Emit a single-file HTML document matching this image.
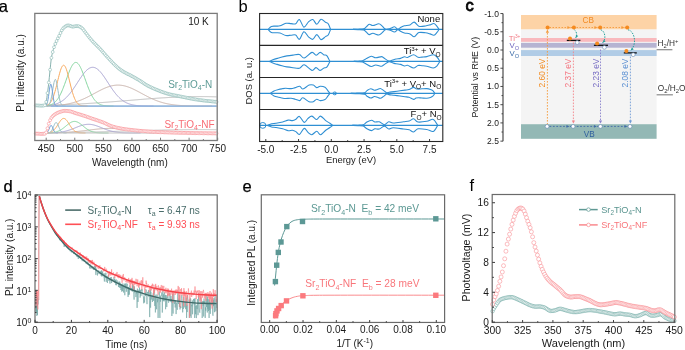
<!DOCTYPE html>
<html><head><meta charset="utf-8"><style>
html,body{margin:0;padding:0;background:#fff;}
body{width:685px;height:350px;overflow:hidden;}
svg{display:block;font-family:"Liberation Sans",sans-serif;will-change:transform;}
</style></head><body>
<svg width="685" height="350" viewBox="0 0 685 350">
<rect width="685" height="350" fill="#fff"/>
<text x="-1.2" y="11.7" font-size="16.5" fill="#000" text-anchor="start" stroke="#000" stroke-width="0.25">a</text>
<text x="238.6" y="11.7" font-size="16.5" fill="#000" text-anchor="start" >b</text>
<text x="465.4" y="11.3" font-size="16.5" fill="#000" text-anchor="start" stroke="#000" stroke-width="0.8">c</text>
<text x="3.4" y="191.8" font-size="16.5" fill="#000" text-anchor="start" stroke="#000" stroke-width="0.25">d</text>
<text x="242.4" y="191.8" font-size="16.5" fill="#000" text-anchor="start" stroke="#000" stroke-width="0.25">e</text>
<text x="469.6" y="191.3" font-size="16.5" fill="#000" text-anchor="start" >f</text>
<line x1="47" y1="106.1" x2="216.6" y2="106.1" stroke="#8aa9c8" stroke-width="1" />
<path d="M46,105.26 L46.5,105.24 L47,105.23 L47.5,105.21 L48,105.2 L48.5,105.19 L49,105.17 L49.5,105.16 L50,105.14 L50.5,105.13 L51,105.11 L51.5,105.1 L52,105.08 L52.5,105.07 L53,105.05 L53.5,105.04 L54,105.02 L54.5,105 L55,104.99 L55.5,104.97 L56,104.96 L56.5,104.94 L57,104.92 L57.5,104.9 L58,104.89 L58.5,104.87 L59,104.85 L59.5,104.83 L60,104.81 L60.5,104.8 L61,104.78 L61.5,104.76 L62,104.74 L62.5,104.72 L63,104.7 L63.5,104.68 L64,104.66 L64.5,104.64 L65,104.62 L65.5,104.6 L66,104.58 L66.5,104.56 L67,104.54 L67.5,104.52 L68,104.49 L68.5,104.47 L69,104.45 L69.5,104.43 L70,104.41 L70.5,104.38 L71,104.36 L71.5,104.34 L72,104.31 L72.5,104.29 L73,104.27 L73.5,104.24 L74,104.22 L74.5,104.2 L75,104.17 L75.5,104.15 L76,104.12 L76.5,104.1 L77,104.07 L77.5,104.05 L78,104.02 L78.5,103.99 L79,103.97 L79.5,103.94 L80,103.91 L80.5,103.89 L81,103.86 L81.5,103.83 L82,103.81 L82.5,103.78 L83,103.75 L83.5,103.72 L84,103.69 L84.5,103.66 L85,103.64 L85.5,103.61 L86,103.58 L86.5,103.55 L87,103.52 L87.5,103.49 L88,103.46 L88.5,103.43 L89,103.4 L89.5,103.37 L90,103.34 L90.5,103.31 L91,103.27 L91.5,103.24 L92,103.21 L92.5,103.18 L93,103.15 L93.5,103.11 L94,103.08 L94.5,103.05 L95,103.02 L95.5,102.98 L96,102.95 L96.5,102.92 L97,102.88 L97.5,102.85 L98,102.81 L98.5,102.78 L99,102.75 L99.5,102.71 L100,102.68 L100.5,102.64 L101,102.61 L101.5,102.57 L102,102.53 L102.5,102.5 L103,102.46 L103.5,102.43 L104,102.39 L104.5,102.35 L105,102.32 L105.5,102.28 L106,102.24 L106.5,102.21 L107,102.17 L107.5,102.13 L108,102.09 L108.5,102.06 L109,102.02 L109.5,101.98 L110,101.94 L110.5,101.9 L111,101.87 L111.5,101.83 L112,101.79 L112.5,101.75 L113,101.71 L113.5,101.67 L114,101.63 L114.5,101.59 L115,101.55 L115.5,101.52 L116,101.48 L116.5,101.44 L117,101.4 L117.5,101.36 L118,101.32 L118.5,101.28 L119,101.24 L119.5,101.2 L120,101.16 L120.5,101.12 L121,101.07 L121.5,101.03 L122,100.99 L122.5,100.95 L123,100.91 L123.5,100.87 L124,100.83 L124.5,100.79 L125,100.75 L125.5,100.71 L126,100.67 L126.5,100.63 L127,100.58 L127.5,100.54 L128,100.5 L128.5,100.46 L129,100.42 L129.5,100.38 L130,100.34 L130.5,100.3 L131,100.26 L131.5,100.21 L132,100.17 L132.5,100.13 L133,100.09 L133.5,100.05 L134,100.01 L134.5,99.97 L135,99.93 L135.5,99.89 L136,99.85 L136.5,99.8 L137,99.76 L137.5,99.72 L138,99.68 L138.5,99.64 L139,99.6 L139.5,99.56 L140,99.52 L140.5,99.48 L141,99.44 L141.5,99.4 L142,99.36 L142.5,99.32 L143,99.28 L143.5,99.24 L144,99.2 L144.5,99.16 L145,99.12 L145.5,99.08 L146,99.04 L146.5,99.01 L147,98.97 L147.5,98.93 L148,98.89 L148.5,98.85 L149,98.81 L149.5,98.78 L150,98.74 L150.5,98.7 L151,98.66 L151.5,98.63 L152,98.59 L152.5,98.55 L153,98.52 L153.5,98.48 L154,98.44 L154.5,98.41 L155,98.37 L155.5,98.34 L156,98.3 L156.5,98.27 L157,98.23 L157.5,98.2 L158,98.16 L158.5,98.13 L159,98.1 L159.5,98.06 L160,98.03 L160.5,98 L161,97.97 L161.5,97.93 L162,97.9 L162.5,97.87 L163,97.84 L163.5,97.81 L164,97.78 L164.5,97.75 L165,97.72 L165.5,97.69 L166,97.66 L166.5,97.63 L167,97.6 L167.5,97.57 L168,97.54 L168.5,97.51 L169,97.49 L169.5,97.46 L170,97.43 L170.5,97.41 L171,97.38 L171.5,97.36 L172,97.33 L172.5,97.31 L173,97.28 L173.5,97.26 L174,97.23 L174.5,97.21 L175,97.19 L175.5,97.16 L176,97.14 L176.5,97.12 L177,97.1 L177.5,97.08 L178,97.06 L178.5,97.04 L179,97.02 L179.5,97 L180,96.98 L180.5,96.96 L181,96.94 L181.5,96.93 L182,96.91 L182.5,96.89 L183,96.88 L183.5,96.86 L184,96.84 L184.5,96.83 L185,96.82 L185.5,96.8 L186,96.79 L186.5,96.78 L187,96.76 L187.5,96.75 L188,96.74 L188.5,96.73 L189,96.72 L189.5,96.71 L190,96.7 L190.5,96.69 L191,96.68 L191.5,96.67 L192,96.66 L192.5,96.65 L193,96.65 L193.5,96.64 L194,96.63 L194.5,96.63 L195,96.62 L195.5,96.62 L196,96.62 L196.5,96.61 L197,96.61 L197.5,96.61 L198,96.6 L198.5,96.6 L199,96.6 L199.5,96.6 L200,96.6 L200.5,96.6 L201,96.6 L201.5,96.6 L202,96.6 L202.5,96.61 L203,96.61 L203.5,96.61 L204,96.62 L204.5,96.62 L205,96.62 L205.5,96.63 L206,96.63 L206.5,96.64 L207,96.65 L207.5,96.65 L208,96.66 L208.5,96.67 L209,96.68 L209.5,96.69 L210,96.7 L210.5,96.71 L211,96.72 L211.5,96.73 L212,96.74 L212.5,96.75 L213,96.76 L213.5,96.78 L214,96.79 L214.5,96.8 L215,96.82 L215.5,96.83 L216,96.84 L216.5,96.86" stroke="#bdbdbd" stroke-width="1" fill="none" />
<path d="M46,105.91 L46.5,105.89 L47,105.88 L47.5,105.87 L48,105.85 L48.5,105.84 L49,105.82 L49.5,105.8 L50,105.78 L50.5,105.76 L51,105.74 L51.5,105.72 L52,105.69 L52.5,105.67 L53,105.64 L53.5,105.61 L54,105.59 L54.5,105.55 L55,105.52 L55.5,105.49 L56,105.45 L56.5,105.42 L57,105.38 L57.5,105.34 L58,105.29 L58.5,105.25 L59,105.2 L59.5,105.15 L60,105.1 L60.5,105.05 L61,104.99 L61.5,104.93 L62,104.87 L62.5,104.81 L63,104.74 L63.5,104.67 L64,104.6 L64.5,104.53 L65,104.45 L65.5,104.37 L66,104.28 L66.5,104.2 L67,104.11 L67.5,104.01 L68,103.92 L68.5,103.82 L69,103.71 L69.5,103.6 L70,103.49 L70.5,103.38 L71,103.26 L71.5,103.14 L72,103.01 L72.5,102.88 L73,102.74 L73.5,102.6 L74,102.46 L74.5,102.31 L75,102.16 L75.5,102.01 L76,101.85 L76.5,101.68 L77,101.52 L77.5,101.34 L78,101.17 L78.5,100.99 L79,100.8 L79.5,100.61 L80,100.42 L80.5,100.22 L81,100.02 L81.5,99.81 L82,99.6 L82.5,99.39 L83,99.17 L83.5,98.95 L84,98.73 L84.5,98.5 L85,98.27 L85.5,98.03 L86,97.79 L86.5,97.55 L87,97.3 L87.5,97.05 L88,96.8 L88.5,96.55 L89,96.29 L89.5,96.03 L90,95.77 L90.5,95.51 L91,95.25 L91.5,94.98 L92,94.71 L92.5,94.44 L93,94.17 L93.5,93.9 L94,93.63 L94.5,93.36 L95,93.09 L95.5,92.82 L96,92.55 L96.5,92.28 L97,92.01 L97.5,91.75 L98,91.48 L98.5,91.22 L99,90.95 L99.5,90.7 L100,90.44 L100.5,90.19 L101,89.93 L101.5,89.69 L102,89.44 L102.5,89.21 L103,88.97 L103.5,88.74 L104,88.51 L104.5,88.29 L105,88.08 L105.5,87.87 L106,87.67 L106.5,87.47 L107,87.28 L107.5,87.09 L108,86.92 L108.5,86.75 L109,86.58 L109.5,86.43 L110,86.28 L110.5,86.14 L111,86.01 L111.5,85.89 L112,85.77 L112.5,85.67 L113,85.57 L113.5,85.48 L114,85.4 L114.5,85.33 L115,85.27 L115.5,85.22 L116,85.18 L116.5,85.14 L117,85.12 L117.5,85.1 L118,85.1 L118.5,85.1 L119,85.12 L119.5,85.14 L120,85.18 L120.5,85.22 L121,85.27 L121.5,85.33 L122,85.4 L122.5,85.48 L123,85.57 L123.5,85.67 L124,85.77 L124.5,85.89 L125,86.01 L125.5,86.14 L126,86.28 L126.5,86.43 L127,86.58 L127.5,86.75 L128,86.92 L128.5,87.09 L129,87.28 L129.5,87.47 L130,87.67 L130.5,87.87 L131,88.08 L131.5,88.29 L132,88.51 L132.5,88.74 L133,88.97 L133.5,89.21 L134,89.44 L134.5,89.69 L135,89.93 L135.5,90.19 L136,90.44 L136.5,90.7 L137,90.95 L137.5,91.22 L138,91.48 L138.5,91.75 L139,92.01 L139.5,92.28 L140,92.55 L140.5,92.82 L141,93.09 L141.5,93.36 L142,93.63 L142.5,93.9 L143,94.17 L143.5,94.44 L144,94.71 L144.5,94.98 L145,95.25 L145.5,95.51 L146,95.77 L146.5,96.03 L147,96.29 L147.5,96.55 L148,96.8 L148.5,97.05 L149,97.3 L149.5,97.55 L150,97.79 L150.5,98.03 L151,98.27 L151.5,98.5 L152,98.73 L152.5,98.95 L153,99.17 L153.5,99.39 L154,99.6 L154.5,99.81 L155,100.02 L155.5,100.22 L156,100.42 L156.5,100.61 L157,100.8 L157.5,100.99 L158,101.17 L158.5,101.34 L159,101.52 L159.5,101.68 L160,101.85 L160.5,102.01 L161,102.16 L161.5,102.31 L162,102.46 L162.5,102.6 L163,102.74 L163.5,102.88 L164,103.01 L164.5,103.14 L165,103.26 L165.5,103.38 L166,103.49 L166.5,103.6 L167,103.71 L167.5,103.82 L168,103.92 L168.5,104.01 L169,104.11 L169.5,104.2 L170,104.28 L170.5,104.37 L171,104.45 L171.5,104.53 L172,104.6 L172.5,104.67 L173,104.74 L173.5,104.81 L174,104.87 L174.5,104.93 L175,104.99 L175.5,105.05 L176,105.1 L176.5,105.15 L177,105.2 L177.5,105.25 L178,105.29 L178.5,105.34 L179,105.38 L179.5,105.42 L180,105.45 L180.5,105.49 L181,105.52 L181.5,105.55 L182,105.59 L182.5,105.61 L183,105.64 L183.5,105.67 L184,105.69 L184.5,105.72 L185,105.74 L185.5,105.76 L186,105.78 L186.5,105.8 L187,105.82 L187.5,105.84 L188,105.85 L188.5,105.87 L189,105.88 L189.5,105.89 L190,105.91 L190.5,105.92 L191,105.93 L191.5,105.94 L192,105.95 L192.5,105.96 L193,105.97 L193.5,105.98 L194,105.99 L194.5,106 L195,106 L195.5,106.01 L196,106.01 L196.5,106.02 L197,106.03 L197.5,106.03 L198,106.04 L198.5,106.04 L199,106.04 L199.5,106.05 L200,106.05 L200.5,106.06 L201,106.06 L201.5,106.06 L202,106.06 L202.5,106.07 L203,106.07 L203.5,106.07 L204,106.07 L204.5,106.08 L205,106.08 L205.5,106.08 L206,106.08 L206.5,106.08 L207,106.08 L207.5,106.09 L208,106.09 L208.5,106.09 L209,106.09 L209.5,106.09 L210,106.09 L210.5,106.09 L211,106.09 L211.5,106.09 L212,106.09" stroke="#c8b2aa" stroke-width="1" fill="none" />
<path d="M46,105.75 L46.5,105.72 L47,105.68 L47.5,105.63 L48,105.59 L48.5,105.53 L49,105.48 L49.5,105.42 L50,105.35 L50.5,105.28 L51,105.2 L51.5,105.11 L52,105.02 L52.5,104.93 L53,104.82 L53.5,104.7 L54,104.58 L54.5,104.45 L55,104.31 L55.5,104.16 L56,104 L56.5,103.82 L57,103.64 L57.5,103.44 L58,103.23 L58.5,103.01 L59,102.78 L59.5,102.53 L60,102.26 L60.5,101.99 L61,101.69 L61.5,101.38 L62,101.05 L62.5,100.71 L63,100.35 L63.5,99.97 L64,99.57 L64.5,99.16 L65,98.73 L65.5,98.28 L66,97.81 L66.5,97.32 L67,96.81 L67.5,96.28 L68,95.74 L68.5,95.18 L69,94.59 L69.5,94 L70,93.38 L70.5,92.75 L71,92.1 L71.5,91.43 L72,90.75 L72.5,90.06 L73,89.35 L73.5,88.63 L74,87.9 L74.5,87.15 L75,86.4 L75.5,85.65 L76,84.88 L76.5,84.11 L77,83.34 L77.5,82.57 L78,81.79 L78.5,81.02 L79,80.25 L79.5,79.49 L80,78.73 L80.5,77.98 L81,77.25 L81.5,76.52 L82,75.82 L82.5,75.12 L83,74.45 L83.5,73.79 L84,73.16 L84.5,72.55 L85,71.97 L85.5,71.42 L86,70.89 L86.5,70.4 L87,69.93 L87.5,69.51 L88,69.11 L88.5,68.75 L89,68.43 L89.5,68.15 L90,67.91 L90.5,67.7 L91,67.54 L91.5,67.42 L92,67.34 L92.5,67.3 L93,67.31 L93.5,67.35 L94,67.44 L94.5,67.57 L95,67.74 L95.5,67.95 L96,68.2 L96.5,68.49 L97,68.82 L97.5,69.19 L98,69.59 L98.5,70.02 L99,70.49 L99.5,70.99 L100,71.53 L100.5,72.09 L101,72.67 L101.5,73.29 L102,73.92 L102.5,74.58 L103,75.26 L103.5,75.96 L104,76.67 L104.5,77.39 L105,78.13 L105.5,78.88 L106,79.64 L106.5,80.41 L107,81.17 L107.5,81.95 L108,82.72 L108.5,83.5 L109,84.27 L109.5,85.03 L110,85.8 L110.5,86.55 L111,87.3 L111.5,88.04 L112,88.77 L112.5,89.49 L113,90.2 L113.5,90.89 L114,91.56 L114.5,92.23 L115,92.87 L115.5,93.5 L116,94.12 L116.5,94.71 L117,95.29 L117.5,95.85 L118,96.39 L118.5,96.91 L119,97.42 L119.5,97.9 L120,98.37 L120.5,98.81 L121,99.24 L121.5,99.65 L122,100.05 L122.5,100.42 L123,100.78 L123.5,101.12 L124,101.44 L124.5,101.75 L125,102.04 L125.5,102.32 L126,102.58 L126.5,102.83 L127,103.06 L127.5,103.28 L128,103.48 L128.5,103.68 L129,103.86 L129.5,104.03 L130,104.19 L130.5,104.34 L131,104.48 L131.5,104.61 L132,104.73 L132.5,104.84 L133,104.95 L133.5,105.04 L134,105.13 L134.5,105.22 L135,105.29 L135.5,105.36 L136,105.43 L136.5,105.49 L137,105.54 L137.5,105.6 L138,105.64 L138.5,105.69 L139,105.72 L139.5,105.76 L140,105.79 L140.5,105.82 L141,105.85 L141.5,105.88 L142,105.9 L142.5,105.92 L143,105.94 L143.5,105.95 L144,105.97 L144.5,105.98 L145,106 L145.5,106.01 L146,106.02 L146.5,106.03 L147,106.03 L147.5,106.04 L148,106.05 L148.5,106.05 L149,106.06 L149.5,106.06 L150,106.07 L150.5,106.07 L151,106.08 L151.5,106.08 L152,106.08 L152.5,106.08 L153,106.09 L153.5,106.09" stroke="#a9a4d2" stroke-width="1" fill="none" />
<path d="M46,105.78 L46.5,105.72 L47,105.66 L47.5,105.58 L48,105.5 L48.5,105.4 L49,105.28 L49.5,105.15 L50,105.01 L50.5,104.84 L51,104.65 L51.5,104.44 L52,104.21 L52.5,103.94 L53,103.65 L53.5,103.32 L54,102.96 L54.5,102.56 L55,102.12 L55.5,101.64 L56,101.12 L56.5,100.55 L57,99.93 L57.5,99.27 L58,98.55 L58.5,97.78 L59,96.95 L59.5,96.07 L60,95.14 L60.5,94.15 L61,93.11 L61.5,92.02 L62,90.89 L62.5,89.7 L63,88.47 L63.5,87.2 L64,85.89 L64.5,84.56 L65,83.2 L65.5,81.82 L66,80.43 L66.5,79.04 L67,77.65 L67.5,76.26 L68,74.9 L68.5,73.57 L69,72.28 L69.5,71.03 L70,69.83 L70.5,68.7 L71,67.64 L71.5,66.65 L72,65.76 L72.5,64.96 L73,64.26 L73.5,63.66 L74,63.18 L74.5,62.81 L75,62.55 L75.5,62.42 L76,62.41 L76.5,62.52 L77,62.75 L77.5,63.09 L78,63.56 L78.5,64.13 L79,64.81 L79.5,65.59 L80,66.47 L80.5,67.43 L81,68.48 L81.5,69.6 L82,70.78 L82.5,72.02 L83,73.31 L83.5,74.64 L84,75.99 L84.5,77.37 L85,78.76 L85.5,80.15 L86,81.54 L86.5,82.93 L87,84.29 L87.5,85.63 L88,86.94 L88.5,88.22 L89,89.46 L89.5,90.65 L90,91.8 L90.5,92.9 L91,93.95 L91.5,94.95 L92,95.89 L92.5,96.78 L93,97.61 L93.5,98.4 L94,99.13 L94.5,99.8 L95,100.43 L95.5,101.01 L96,101.54 L96.5,102.03 L97,102.48 L97.5,102.88 L98,103.25 L98.5,103.58 L99,103.88 L99.5,104.15 L100,104.4 L100.5,104.61 L101,104.8 L101.5,104.97 L102,105.13 L102.5,105.26 L103,105.37 L103.5,105.48 L104,105.57 L104.5,105.64 L105,105.71 L105.5,105.77 L106,105.82 L106.5,105.86 L107,105.9 L107.5,105.93 L108,105.96 L108.5,105.98 L109,106 L109.5,106.02 L110,106.03 L110.5,106.04 L111,106.05 L111.5,106.06 L112,106.07 L112.5,106.07 L113,106.08 L113.5,106.08" stroke="#86d6a0" stroke-width="1" fill="none" />
<path d="M46,105.55 L46.5,105.4 L47,105.21 L47.5,104.98 L48,104.71 L48.5,104.38 L49,103.98 L49.5,103.51 L50,102.97 L50.5,102.33 L51,101.59 L51.5,100.75 L52,99.79 L52.5,98.71 L53,97.51 L53.5,96.18 L54,94.73 L54.5,93.15 L55,91.46 L55.5,89.66 L56,87.76 L56.5,85.79 L57,83.77 L57.5,81.71 L58,79.64 L58.5,77.6 L59,75.61 L59.5,73.72 L60,71.94 L60.5,70.31 L61,68.87 L61.5,67.63 L62,66.63 L62.5,65.88 L63,65.4 L63.5,65.21 L64,65.29 L64.5,65.66 L65,66.3 L65.5,67.2 L66,68.34 L66.5,69.71 L67,71.27 L67.5,72.99 L68,74.84 L68.5,76.8 L69,78.82 L69.5,80.88 L70,82.94 L70.5,84.99 L71,86.98 L71.5,88.91 L72,90.75 L72.5,92.49 L73,94.11 L73.5,95.62 L74,96.99 L74.5,98.25 L75,99.37 L75.5,100.38 L76,101.27 L76.5,102.05 L77,102.72 L77.5,103.31 L78,103.8 L78.5,104.23 L79,104.58 L79.5,104.88 L80,105.12 L80.5,105.33 L81,105.49 L81.5,105.62 L82,105.73 L82.5,105.81 L83,105.88 L83.5,105.93 L84,105.97 L84.5,106.01 L85,106.03 L85.5,106.05 L86,106.06 L86.5,106.07 L87,106.08 L87.5,106.09" stroke="#f9aa5e" stroke-width="1" fill="none" />
<path d="M46,106.06 L46.5,106.01 L47,105.94 L47.5,105.8 L48,105.58 L48.5,105.23 L49,104.68 L49.5,103.88 L50,102.76 L50.5,101.24 L51,99.3 L51.5,96.92 L52,94.17 L52.5,91.15 L53,88.05 L53.5,85.09 L54,82.54 L54.5,80.63 L55,79.58 L55.5,79.48 L56,80.35 L56.5,82.1 L57,84.54 L57.5,87.43 L58,90.53 L58.5,93.58 L59,96.4 L59.5,98.86 L60,100.89 L60.5,102.49 L61,103.69 L61.5,104.55 L62,105.13 L62.5,105.52 L63,105.77 L63.5,105.92 L64,106 L64.5,106.05 L65,106.07 L65.5,106.09" stroke="#9cc0c8" stroke-width="1" fill="none" />
<path d="M46,105.47 L46.5,104.83 L47,103.73 L47.5,102 L48,99.54 L48.5,96.38 L49,92.76 L49.5,89.15 L50,86.17 L50.5,84.4 L51,84.24 L51.5,85.7 L52,88.48 L52.5,92.02 L53,95.68 L53.5,98.96 L54,101.57 L54.5,103.44 L55,104.65 L55.5,105.37 L56,105.76 L56.5,105.95 L57,106.04 L57.5,106.08 L58,106.09" stroke="#6f9fd8" stroke-width="1" fill="none" />
<line x1="51" y1="106.1" x2="216.6" y2="106.1" stroke="#8db4e0" stroke-width="1.2" />
<path d="M35.5,105.4 C37,105.4 42.77,105.75 44.5,105.4 C46.23,105.05 45.45,105 45.9,103.3 C46.35,101.6 46.75,98.37 47.2,95.2 C47.65,92.03 48.13,88.38 48.6,84.3 C49.07,80.22 49.55,75 50,70.7 C50.45,66.4 50.85,61.62 51.3,58.5 C51.75,55.38 52.25,53.88 52.7,52 C53.15,50.12 53.33,49.07 54,47.2 C54.67,45.33 55.78,42.8 56.7,40.8 C57.62,38.8 58.58,37.07 59.5,35.2 C60.42,33.33 61.3,31 62.2,29.6 C63.1,28.2 64,27.5 64.9,26.8 C65.8,26.1 66.7,25.55 67.6,25.4 C68.5,25.25 69.48,25.68 70.3,25.9 C71.12,26.12 71.63,26.65 72.5,26.7 C73.37,26.75 74.5,26.28 75.5,26.2 C76.5,26.12 77.58,26 78.5,26.2 C79.42,26.4 80.25,26.9 81,27.4 C81.75,27.9 82.07,28.1 83,29.2 C83.93,30.3 85.1,32.1 86.6,34 C88.1,35.9 89.67,38.03 92,40.6 C94.33,43.17 98.43,47.1 100.6,49.4 C102.77,51.7 102.72,51.9 105,54.4 C107.28,56.9 111.8,61.9 114.3,64.4 C116.8,66.9 118.22,68.03 120,69.4 C121.78,70.77 123.08,71.52 125,72.6 C126.92,73.68 129,74.53 131.5,75.9 C134,77.27 137.15,79.08 140,80.8 C142.85,82.52 144.3,84.13 148.6,86.2 C152.9,88.27 160.65,91.52 165.8,93.2 C170.95,94.88 174.13,95.2 179.5,96.3 C184.87,97.4 191.82,98.87 198,99.8 C204.18,100.73 213.5,101.55 216.6,101.9" stroke="#6a9e9a" stroke-width="0.8" fill="none" />
<g stroke="#80b3af" stroke-width="0.55" fill="#fff"><circle cx="35.8" cy="105.4" r="1.45"/><circle cx="37.1" cy="105.45" r="1.45"/><circle cx="38.4" cy="105.53" r="1.45"/><circle cx="39.7" cy="105.61" r="1.45"/><circle cx="41" cy="105.66" r="1.45"/><circle cx="42.3" cy="105.65" r="1.45"/><circle cx="43.6" cy="105.55" r="1.45"/><circle cx="44.9" cy="105.25" r="1.45"/><circle cx="46.2" cy="101.91" r="1.45"/><circle cx="47.5" cy="93.05" r="1.45"/><circle cx="48.8" cy="82.49" r="1.45"/><circle cx="50.1" cy="69.73" r="1.45"/><circle cx="51.4" cy="57.84" r="1.45"/><circle cx="52.7" cy="52" r="1.45"/><circle cx="54" cy="47.2" r="1.45"/><circle cx="55.3" cy="43.91" r="1.45"/><circle cx="56.6" cy="41.02" r="1.45"/><circle cx="57.9" cy="38.34" r="1.45"/><circle cx="59.2" cy="35.8" r="1.45"/><circle cx="60.5" cy="33.02" r="1.45"/><circle cx="61.8" cy="30.28" r="1.45"/><circle cx="63.1" cy="28.41" r="1.45"/><circle cx="64.4" cy="27.19" r="1.45"/><circle cx="65.7" cy="26.22" r="1.45"/><circle cx="67" cy="25.56" r="1.45"/><circle cx="68.3" cy="25.38" r="1.45"/><circle cx="69.6" cy="25.69" r="1.45"/><circle cx="70.9" cy="26.12" r="1.45"/><circle cx="72.2" cy="26.66" r="1.45"/><circle cx="73.5" cy="26.61" r="1.45"/><circle cx="74.8" cy="26.31" r="1.45"/><circle cx="76.1" cy="26.15" r="1.45"/><circle cx="77.4" cy="26.08" r="1.45"/><circle cx="78.7" cy="26.25" r="1.45"/><circle cx="80" cy="26.79" r="1.45"/><circle cx="81.3" cy="27.61" r="1.45"/><circle cx="82.6" cy="28.75" r="1.45"/><circle cx="83.9" cy="30.33" r="1.45"/><circle cx="85.2" cy="32.12" r="1.45"/><circle cx="86.5" cy="33.87" r="1.45"/><circle cx="87.8" cy="35.52" r="1.45"/><circle cx="89.1" cy="37.16" r="1.45"/><circle cx="90.4" cy="38.76" r="1.45"/><circle cx="91.7" cy="40.27" r="1.45"/><circle cx="93" cy="41.68" r="1.45"/><circle cx="94.3" cy="43.03" r="1.45"/><circle cx="95.6" cy="44.34" r="1.45"/><circle cx="96.9" cy="45.64" r="1.45"/><circle cx="98.2" cy="46.93" r="1.45"/><circle cx="99.5" cy="48.25" r="1.45"/><circle cx="100.8" cy="49.61" r="1.45"/><circle cx="102.1" cy="51.07" r="1.45"/><circle cx="103.4" cy="52.58" r="1.45"/><circle cx="104.7" cy="54.07" r="1.45"/><circle cx="106" cy="55.5" r="1.45"/><circle cx="107.3" cy="56.93" r="1.45"/><circle cx="108.6" cy="58.36" r="1.45"/><circle cx="109.9" cy="59.78" r="1.45"/><circle cx="111.2" cy="61.18" r="1.45"/><circle cx="112.5" cy="62.56" r="1.45"/><circle cx="113.8" cy="63.9" r="1.45"/><circle cx="115.1" cy="65.19" r="1.45"/><circle cx="116.4" cy="66.4" r="1.45"/><circle cx="117.7" cy="67.54" r="1.45"/><circle cx="119" cy="68.62" r="1.45"/><circle cx="120.3" cy="69.63" r="1.45"/><circle cx="121.6" cy="70.54" r="1.45"/><circle cx="122.9" cy="71.37" r="1.45"/><circle cx="124.2" cy="72.14" r="1.45"/><circle cx="125.5" cy="72.88" r="1.45"/><circle cx="126.8" cy="73.55" r="1.45"/><circle cx="128.1" cy="74.19" r="1.45"/><circle cx="129.4" cy="74.82" r="1.45"/><circle cx="130.7" cy="75.47" r="1.45"/><circle cx="132" cy="76.17" r="1.45"/><circle cx="133.3" cy="76.9" r="1.45"/><circle cx="134.6" cy="77.63" r="1.45"/><circle cx="135.9" cy="78.38" r="1.45"/><circle cx="137.2" cy="79.13" r="1.45"/><circle cx="138.5" cy="79.9" r="1.45"/><circle cx="139.8" cy="80.68" r="1.45"/><circle cx="141.1" cy="81.49" r="1.45"/><circle cx="142.4" cy="82.35" r="1.45"/><circle cx="143.7" cy="83.23" r="1.45"/><circle cx="145" cy="84.1" r="1.45"/><circle cx="146.3" cy="84.93" r="1.45"/><circle cx="147.6" cy="85.68" r="1.45"/><circle cx="148.9" cy="86.34" r="1.45"/><circle cx="150.2" cy="86.96" r="1.45"/><circle cx="151.5" cy="87.56" r="1.45"/><circle cx="152.8" cy="88.15" r="1.45"/><circle cx="154.1" cy="88.72" r="1.45"/><circle cx="155.4" cy="89.28" r="1.45"/><circle cx="156.7" cy="89.83" r="1.45"/><circle cx="158" cy="90.35" r="1.45"/><circle cx="159.3" cy="90.87" r="1.45"/><circle cx="160.6" cy="91.37" r="1.45"/><circle cx="161.9" cy="91.85" r="1.45"/><circle cx="163.2" cy="92.32" r="1.45"/><circle cx="164.5" cy="92.77" r="1.45"/><circle cx="165.8" cy="93.2" r="1.45"/><circle cx="167.1" cy="93.6" r="1.45"/><circle cx="168.4" cy="93.97" r="1.45"/><circle cx="169.7" cy="94.3" r="1.45"/><circle cx="171" cy="94.6" r="1.45"/><circle cx="172.3" cy="94.89" r="1.45"/><circle cx="173.6" cy="95.15" r="1.45"/><circle cx="174.9" cy="95.41" r="1.45"/><circle cx="176.2" cy="95.65" r="1.45"/><circle cx="177.5" cy="95.9" r="1.45"/><circle cx="178.8" cy="96.16" r="1.45"/><circle cx="180.1" cy="96.42" r="1.45"/><circle cx="181.4" cy="96.69" r="1.45"/><circle cx="182.7" cy="96.96" r="1.45"/><circle cx="184" cy="97.22" r="1.45"/><circle cx="185.3" cy="97.49" r="1.45"/><circle cx="186.6" cy="97.75" r="1.45"/><circle cx="187.9" cy="98.01" r="1.45"/><circle cx="189.2" cy="98.26" r="1.45"/><circle cx="190.5" cy="98.51" r="1.45"/><circle cx="191.8" cy="98.75" r="1.45"/><circle cx="193.1" cy="98.99" r="1.45"/><circle cx="194.4" cy="99.22" r="1.45"/><circle cx="195.7" cy="99.44" r="1.45"/><circle cx="197" cy="99.65" r="1.45"/><circle cx="198.3" cy="99.84" r="1.45"/><circle cx="199.6" cy="100.03" r="1.45"/><circle cx="200.9" cy="100.21" r="1.45"/><circle cx="202.2" cy="100.37" r="1.45"/><circle cx="203.5" cy="100.52" r="1.45"/><circle cx="204.8" cy="100.67" r="1.45"/><circle cx="206.1" cy="100.81" r="1.45"/><circle cx="207.4" cy="100.95" r="1.45"/><circle cx="208.7" cy="101.08" r="1.45"/><circle cx="210" cy="101.21" r="1.45"/><circle cx="211.3" cy="101.34" r="1.45"/><circle cx="212.6" cy="101.47" r="1.45"/><circle cx="213.9" cy="101.61" r="1.45"/><circle cx="215.2" cy="101.75" r="1.45"/><circle cx="216.5" cy="101.89" r="1.45"/></g>
<path d="M47,132.69 L47.5,132.68 L48,132.68 L48.5,132.67 L49,132.67 L49.5,132.66 L50,132.66 L50.5,132.65 L51,132.65 L51.5,132.64 L52,132.64 L52.5,132.63 L53,132.63 L53.5,132.62 L54,132.61 L54.5,132.61 L55,132.6 L55.5,132.6 L56,132.59 L56.5,132.58 L57,132.58 L57.5,132.57 L58,132.57 L58.5,132.56 L59,132.55 L59.5,132.55 L60,132.54 L60.5,132.53 L61,132.53 L61.5,132.52 L62,132.51 L62.5,132.51 L63,132.5 L63.5,132.49 L64,132.48 L64.5,132.48 L65,132.47 L65.5,132.46 L66,132.46 L66.5,132.45 L67,132.44 L67.5,132.43 L68,132.43 L68.5,132.42 L69,132.41 L69.5,132.4 L70,132.39 L70.5,132.39 L71,132.38 L71.5,132.37 L72,132.36 L72.5,132.35 L73,132.34 L73.5,132.34 L74,132.33 L74.5,132.32 L75,132.31 L75.5,132.3 L76,132.29 L76.5,132.28 L77,132.27 L77.5,132.26 L78,132.26 L78.5,132.25 L79,132.24 L79.5,132.23 L80,132.22 L80.5,132.21 L81,132.2 L81.5,132.19 L82,132.18 L82.5,132.17 L83,132.16 L83.5,132.15 L84,132.14 L84.5,132.13 L85,132.12 L85.5,132.11 L86,132.1 L86.5,132.09 L87,132.08 L87.5,132.07 L88,132.05 L88.5,132.04 L89,132.03 L89.5,132.02 L90,132.01 L90.5,132 L91,131.99 L91.5,131.98 L92,131.97 L92.5,131.95 L93,131.94 L93.5,131.93 L94,131.92 L94.5,131.91 L95,131.9 L95.5,131.88 L96,131.87 L96.5,131.86 L97,131.85 L97.5,131.84 L98,131.82 L98.5,131.81 L99,131.8 L99.5,131.79 L100,131.77 L100.5,131.76 L101,131.75 L101.5,131.74 L102,131.72 L102.5,131.71 L103,131.7 L103.5,131.69 L104,131.67 L104.5,131.66 L105,131.65 L105.5,131.63 L106,131.62 L106.5,131.61 L107,131.59 L107.5,131.58 L108,131.57 L108.5,131.55 L109,131.54 L109.5,131.53 L110,131.51 L110.5,131.5 L111,131.48 L111.5,131.47 L112,131.46 L112.5,131.44 L113,131.43 L113.5,131.42 L114,131.4 L114.5,131.39 L115,131.37 L115.5,131.36 L116,131.35 L116.5,131.33 L117,131.32 L117.5,131.3 L118,131.29 L118.5,131.27 L119,131.26 L119.5,131.24 L120,131.23 L120.5,131.22 L121,131.2 L121.5,131.19 L122,131.17 L122.5,131.16 L123,131.14 L123.5,131.13 L124,131.11 L124.5,131.1 L125,131.08 L125.5,131.07 L126,131.06 L126.5,131.04 L127,131.03 L127.5,131.01 L128,131 L128.5,130.98 L129,130.97 L129.5,130.95 L130,130.94 L130.5,130.92 L131,130.91 L131.5,130.89 L132,130.88 L132.5,130.86 L133,130.85 L133.5,130.83 L134,130.82 L134.5,130.81 L135,130.79 L135.5,130.78 L136,130.76 L136.5,130.75 L137,130.73 L137.5,130.72 L138,130.7 L138.5,130.69 L139,130.67 L139.5,130.66 L140,130.65 L140.5,130.63 L141,130.62 L141.5,130.6 L142,130.59 L142.5,130.57 L143,130.56 L143.5,130.55 L144,130.53 L144.5,130.52 L145,130.5 L145.5,130.49 L146,130.48 L146.5,130.46 L147,130.45 L147.5,130.43 L148,130.42 L148.5,130.41 L149,130.39 L149.5,130.38 L150,130.37 L150.5,130.35 L151,130.34 L151.5,130.33 L152,130.31 L152.5,130.3 L153,130.29 L153.5,130.27 L154,130.26 L154.5,130.25 L155,130.23 L155.5,130.22 L156,130.21 L156.5,130.2 L157,130.18 L157.5,130.17 L158,130.16 L158.5,130.15 L159,130.14 L159.5,130.12 L160,130.11 L160.5,130.1 L161,130.09 L161.5,130.08 L162,130.07 L162.5,130.05 L163,130.04 L163.5,130.03 L164,130.02 L164.5,130.01 L165,130 L165.5,129.99 L166,129.98 L166.5,129.97 L167,129.96 L167.5,129.95 L168,129.94 L168.5,129.93 L169,129.92 L169.5,129.91 L170,129.9 L170.5,129.89 L171,129.88 L171.5,129.87 L172,129.86 L172.5,129.85 L173,129.84 L173.5,129.84 L174,129.83 L174.5,129.82 L175,129.81 L175.5,129.8 L176,129.79 L176.5,129.79 L177,129.78 L177.5,129.77 L178,129.76 L178.5,129.76 L179,129.75 L179.5,129.74 L180,129.74 L180.5,129.73 L181,129.72 L181.5,129.72 L182,129.71 L182.5,129.7 L183,129.7 L183.5,129.69 L184,129.69 L184.5,129.68 L185,129.68 L185.5,129.67 L186,129.67 L186.5,129.66 L187,129.66 L187.5,129.65 L188,129.65 L188.5,129.65 L189,129.64 L189.5,129.64 L190,129.63 L190.5,129.63 L191,129.63 L191.5,129.62 L192,129.62 L192.5,129.62 L193,129.62 L193.5,129.61 L194,129.61 L194.5,129.61 L195,129.61 L195.5,129.61 L196,129.61 L196.5,129.6 L197,129.6 L197.5,129.6 L198,129.6 L198.5,129.6 L199,129.6 L199.5,129.6 L200,129.6 L200.5,129.6 L201,129.6 L201.5,129.6 L202,129.6 L202.5,129.6 L203,129.6 L203.5,129.6 L204,129.61 L204.5,129.61 L205,129.61 L205.5,129.61 L206,129.61 L206.5,129.61 L207,129.62 L207.5,129.62 L208,129.62 L208.5,129.62 L209,129.63 L209.5,129.63 L210,129.63 L210.5,129.64 L211,129.64 L211.5,129.65 L212,129.65 L212.5,129.65 L213,129.66 L213.5,129.66 L214,129.67 L214.5,129.67 L215,129.68 L215.5,129.68 L216,129.69 L216.5,129.69" stroke="#c3c3c3" stroke-width="1" fill="none" />
<path d="M47,132.92 L47.5,132.92 L48,132.91 L48.5,132.91 L49,132.9 L49.5,132.9 L50,132.89 L50.5,132.88 L51,132.87 L51.5,132.87 L52,132.86 L52.5,132.85 L53,132.84 L53.5,132.83 L54,132.82 L54.5,132.81 L55,132.8 L55.5,132.79 L56,132.77 L56.5,132.76 L57,132.75 L57.5,132.73 L58,132.72 L58.5,132.7 L59,132.69 L59.5,132.67 L60,132.65 L60.5,132.63 L61,132.61 L61.5,132.6 L62,132.57 L62.5,132.55 L63,132.53 L63.5,132.51 L64,132.48 L64.5,132.46 L65,132.43 L65.5,132.41 L66,132.38 L66.5,132.35 L67,132.32 L67.5,132.29 L68,132.26 L68.5,132.22 L69,132.19 L69.5,132.15 L70,132.12 L70.5,132.08 L71,132.04 L71.5,132.01 L72,131.97 L72.5,131.92 L73,131.88 L73.5,131.84 L74,131.79 L74.5,131.75 L75,131.7 L75.5,131.65 L76,131.61 L76.5,131.56 L77,131.51 L77.5,131.46 L78,131.4 L78.5,131.35 L79,131.3 L79.5,131.24 L80,131.18 L80.5,131.13 L81,131.07 L81.5,131.01 L82,130.95 L82.5,130.89 L83,130.83 L83.5,130.77 L84,130.71 L84.5,130.65 L85,130.59 L85.5,130.53 L86,130.46 L86.5,130.4 L87,130.34 L87.5,130.27 L88,130.21 L88.5,130.15 L89,130.08 L89.5,130.02 L90,129.96 L90.5,129.89 L91,129.83 L91.5,129.77 L92,129.71 L92.5,129.65 L93,129.59 L93.5,129.53 L94,129.47 L94.5,129.41 L95,129.35 L95.5,129.3 L96,129.24 L96.5,129.19 L97,129.14 L97.5,129.09 L98,129.04 L98.5,128.99 L99,128.94 L99.5,128.9 L100,128.85 L100.5,128.81 L101,128.77 L101.5,128.73 L102,128.69 L102.5,128.66 L103,128.63 L103.5,128.6 L104,128.57 L104.5,128.54 L105,128.52 L105.5,128.5 L106,128.48 L106.5,128.46 L107,128.44 L107.5,128.43 L108,128.42 L108.5,128.41 L109,128.4 L109.5,128.4 L110,128.4 L110.5,128.4 L111,128.4 L111.5,128.41 L112,128.42 L112.5,128.43 L113,128.44 L113.5,128.46 L114,128.48 L114.5,128.5 L115,128.52 L115.5,128.54 L116,128.57 L116.5,128.6 L117,128.63 L117.5,128.66 L118,128.69 L118.5,128.73 L119,128.77 L119.5,128.81 L120,128.85 L120.5,128.9 L121,128.94 L121.5,128.99 L122,129.04 L122.5,129.09 L123,129.14 L123.5,129.19 L124,129.24 L124.5,129.3 L125,129.35 L125.5,129.41 L126,129.47 L126.5,129.53 L127,129.59 L127.5,129.65 L128,129.71 L128.5,129.77 L129,129.83 L129.5,129.89 L130,129.96 L130.5,130.02 L131,130.08 L131.5,130.15 L132,130.21 L132.5,130.27 L133,130.34 L133.5,130.4 L134,130.46 L134.5,130.53 L135,130.59 L135.5,130.65 L136,130.71 L136.5,130.77 L137,130.83 L137.5,130.89 L138,130.95 L138.5,131.01 L139,131.07 L139.5,131.13 L140,131.18 L140.5,131.24 L141,131.3 L141.5,131.35 L142,131.4 L142.5,131.46 L143,131.51 L143.5,131.56 L144,131.61 L144.5,131.65 L145,131.7 L145.5,131.75 L146,131.79 L146.5,131.84 L147,131.88 L147.5,131.92 L148,131.97 L148.5,132.01 L149,132.04 L149.5,132.08 L150,132.12 L150.5,132.15 L151,132.19 L151.5,132.22 L152,132.26 L152.5,132.29 L153,132.32 L153.5,132.35 L154,132.38 L154.5,132.41 L155,132.43 L155.5,132.46 L156,132.48 L156.5,132.51 L157,132.53 L157.5,132.55 L158,132.57 L158.5,132.6 L159,132.61 L159.5,132.63 L160,132.65 L160.5,132.67 L161,132.69 L161.5,132.7 L162,132.72 L162.5,132.73 L163,132.75 L163.5,132.76 L164,132.77 L164.5,132.79 L165,132.8 L165.5,132.81 L166,132.82 L166.5,132.83 L167,132.84 L167.5,132.85 L168,132.86 L168.5,132.87 L169,132.87 L169.5,132.88 L170,132.89 L170.5,132.9 L171,132.9 L171.5,132.91 L172,132.91 L172.5,132.92 L173,132.92 L173.5,132.93 L174,132.93 L174.5,132.94 L175,132.94 L175.5,132.95 L176,132.95 L176.5,132.95 L177,132.96 L177.5,132.96 L178,132.96 L178.5,132.96 L179,132.97 L179.5,132.97 L180,132.97 L180.5,132.97 L181,132.97 L181.5,132.98 L182,132.98 L182.5,132.98 L183,132.98 L183.5,132.98 L184,132.98 L184.5,132.99 L185,132.99 L185.5,132.99 L186,132.99 L186.5,132.99 L187,132.99 L187.5,132.99 L188,132.99 L188.5,132.99 L189,132.99 L189.5,132.99 L190,132.99 L190.5,132.99 L191,132.99 L191.5,133 L192,133 L192.5,133 L193,133 L193.5,133 L194,133 L194.5,133 L195,133 L195.5,133 L196,133 L196.5,133 L197,133 L197.5,133 L198,133" stroke="#c8b2aa" stroke-width="1" fill="none" />
<path d="M47,132.95 L47.5,132.94 L48,132.93 L48.5,132.92 L49,132.91 L49.5,132.9 L50,132.89 L50.5,132.88 L51,132.86 L51.5,132.85 L52,132.83 L52.5,132.81 L53,132.79 L53.5,132.77 L54,132.74 L54.5,132.72 L55,132.69 L55.5,132.65 L56,132.62 L56.5,132.58 L57,132.54 L57.5,132.49 L58,132.45 L58.5,132.39 L59,132.34 L59.5,132.28 L60,132.21 L60.5,132.14 L61,132.07 L61.5,131.99 L62,131.91 L62.5,131.82 L63,131.73 L63.5,131.63 L64,131.53 L64.5,131.42 L65,131.3 L65.5,131.18 L66,131.05 L66.5,130.92 L67,130.78 L67.5,130.64 L68,130.49 L68.5,130.34 L69,130.18 L69.5,130.01 L70,129.84 L70.5,129.66 L71,129.48 L71.5,129.3 L72,129.11 L72.5,128.92 L73,128.73 L73.5,128.53 L74,128.33 L74.5,128.13 L75,127.93 L75.5,127.72 L76,127.52 L76.5,127.32 L77,127.12 L77.5,126.92 L78,126.72 L78.5,126.53 L79,126.34 L79.5,126.15 L80,125.97 L80.5,125.8 L81,125.63 L81.5,125.47 L82,125.32 L82.5,125.18 L83,125.04 L83.5,124.92 L84,124.81 L84.5,124.7 L85,124.61 L85.5,124.53 L86,124.46 L86.5,124.4 L87,124.36 L87.5,124.33 L88,124.31 L88.5,124.3 L89,124.31 L89.5,124.33 L90,124.36 L90.5,124.4 L91,124.46 L91.5,124.53 L92,124.61 L92.5,124.7 L93,124.81 L93.5,124.92 L94,125.04 L94.5,125.18 L95,125.32 L95.5,125.47 L96,125.63 L96.5,125.8 L97,125.97 L97.5,126.15 L98,126.34 L98.5,126.53 L99,126.72 L99.5,126.92 L100,127.12 L100.5,127.32 L101,127.52 L101.5,127.72 L102,127.93 L102.5,128.13 L103,128.33 L103.5,128.53 L104,128.73 L104.5,128.92 L105,129.11 L105.5,129.3 L106,129.48 L106.5,129.66 L107,129.84 L107.5,130.01 L108,130.18 L108.5,130.34 L109,130.49 L109.5,130.64 L110,130.78 L110.5,130.92 L111,131.05 L111.5,131.18 L112,131.3 L112.5,131.42 L113,131.53 L113.5,131.63 L114,131.73 L114.5,131.82 L115,131.91 L115.5,131.99 L116,132.07 L116.5,132.14 L117,132.21 L117.5,132.28 L118,132.34 L118.5,132.39 L119,132.45 L119.5,132.49 L120,132.54 L120.5,132.58 L121,132.62 L121.5,132.65 L122,132.69 L122.5,132.72 L123,132.74 L123.5,132.77 L124,132.79 L124.5,132.81 L125,132.83 L125.5,132.85 L126,132.86 L126.5,132.88 L127,132.89 L127.5,132.9 L128,132.91 L128.5,132.92 L129,132.93 L129.5,132.94 L130,132.95 L130.5,132.95 L131,132.96 L131.5,132.96 L132,132.97 L132.5,132.97 L133,132.98 L133.5,132.98 L134,132.98 L134.5,132.98 L135,132.99 L135.5,132.99 L136,132.99 L136.5,132.99 L137,132.99 L137.5,132.99 L138,132.99 L138.5,132.99 L139,133 L139.5,133 L140,133 L140.5,133" stroke="#a9a4d2" stroke-width="1" fill="none" />
<path d="M47,132.94 L47.5,132.93 L48,132.91 L48.5,132.89 L49,132.87 L49.5,132.85 L50,132.82 L50.5,132.78 L51,132.75 L51.5,132.7 L52,132.65 L52.5,132.59 L53,132.53 L53.5,132.45 L54,132.37 L54.5,132.27 L55,132.17 L55.5,132.05 L56,131.91 L56.5,131.77 L57,131.61 L57.5,131.43 L58,131.24 L58.5,131.03 L59,130.8 L59.5,130.56 L60,130.29 L60.5,130.01 L61,129.71 L61.5,129.4 L62,129.07 L62.5,128.72 L63,128.36 L63.5,127.98 L64,127.59 L64.5,127.19 L65,126.79 L65.5,126.38 L66,125.96 L66.5,125.55 L67,125.14 L67.5,124.74 L68,124.34 L68.5,123.96 L69,123.59 L69.5,123.24 L70,122.92 L70.5,122.62 L71,122.34 L71.5,122.1 L72,121.89 L72.5,121.72 L73,121.58 L73.5,121.48 L74,121.42 L74.5,121.4 L75,121.42 L75.5,121.48 L76,121.58 L76.5,121.72 L77,121.89 L77.5,122.1 L78,122.34 L78.5,122.62 L79,122.92 L79.5,123.24 L80,123.59 L80.5,123.96 L81,124.34 L81.5,124.74 L82,125.14 L82.5,125.55 L83,125.96 L83.5,126.38 L84,126.79 L84.5,127.19 L85,127.59 L85.5,127.98 L86,128.36 L86.5,128.72 L87,129.07 L87.5,129.4 L88,129.71 L88.5,130.01 L89,130.29 L89.5,130.56 L90,130.8 L90.5,131.03 L91,131.24 L91.5,131.43 L92,131.61 L92.5,131.77 L93,131.91 L93.5,132.05 L94,132.17 L94.5,132.27 L95,132.37 L95.5,132.45 L96,132.53 L96.5,132.59 L97,132.65 L97.5,132.7 L98,132.75 L98.5,132.78 L99,132.82 L99.5,132.85 L100,132.87 L100.5,132.89 L101,132.91 L101.5,132.93 L102,132.94 L102.5,132.95 L103,132.96 L103.5,132.97 L104,132.97 L104.5,132.98 L105,132.98 L105.5,132.98 L106,132.99 L106.5,132.99 L107,132.99 L107.5,132.99 L108,133 L108.5,133" stroke="#86d6a0" stroke-width="1" fill="none" />
<path d="M47,132.85 L47.5,132.81 L48,132.75 L48.5,132.68 L49,132.59 L49.5,132.48 L50,132.34 L50.5,132.18 L51,131.98 L51.5,131.75 L52,131.48 L52.5,131.16 L53,130.8 L53.5,130.38 L54,129.92 L54.5,129.4 L55,128.82 L55.5,128.2 L56,127.52 L56.5,126.8 L57,126.05 L57.5,125.27 L58,124.47 L58.5,123.66 L59,122.87 L59.5,122.09 L60,121.36 L60.5,120.67 L61,120.06 L61.5,119.52 L62,119.08 L62.5,118.74 L63,118.52 L63.5,118.41 L64,118.42 L64.5,118.55 L65,118.8 L65.5,119.16 L66,119.62 L66.5,120.17 L67,120.81 L67.5,121.5 L68,122.24 L68.5,123.02 L69,123.82 L69.5,124.63 L70,125.42 L70.5,126.2 L71,126.95 L71.5,127.66 L72,128.32 L72.5,128.94 L73,129.5 L73.5,130.02 L74,130.47 L74.5,130.88 L75,131.23 L75.5,131.54 L76,131.8 L76.5,132.03 L77,132.22 L77.5,132.37 L78,132.5 L78.5,132.61 L79,132.7 L79.5,132.76 L80,132.82 L80.5,132.86 L81,132.9 L81.5,132.92 L82,132.94 L82.5,132.96 L83,132.97 L83.5,132.98 L84,132.98 L84.5,132.99 L85,132.99 L85.5,132.99" stroke="#f9aa5e" stroke-width="1" fill="none" />
<path d="M47,132.98 L47.5,132.96 L48,132.92 L48.5,132.85 L49,132.75 L49.5,132.58 L50,132.33 L50.5,131.97 L51,131.47 L51.5,130.8 L52,129.97 L52.5,128.97 L53,127.84 L53.5,126.63 L54,125.42 L54.5,124.31 L55,123.4 L55.5,122.78 L56,122.51 L56.5,122.62 L57,123.11 L57.5,123.92 L58,124.96 L58.5,126.14 L59,127.36 L59.5,128.53 L60,129.59 L60.5,130.49 L61,131.22 L61.5,131.79 L62,132.2 L62.5,132.49 L63,132.69 L63.5,132.82 L64,132.9 L64.5,132.94 L65,132.97 L65.5,132.98 L66,132.99 L66.5,133" stroke="#9cc0c8" stroke-width="1" fill="none" />
<path d="M47,132.43 L47.5,131.97 L48,131.28 L48.5,130.32 L49,129.15 L49.5,127.88 L50,126.69 L50.5,125.81 L51,125.41 L51.5,125.59 L52,126.29 L52.5,127.38 L53,128.65 L53.5,129.88 L54,130.92 L54.5,131.72 L55,132.27 L55.5,132.62 L56,132.81 L56.5,132.92 L57,132.96 L57.5,132.99 L58,133" stroke="#6f9fd8" stroke-width="1" fill="none" />
<line x1="47" y1="133" x2="216.6" y2="133" stroke="#c4c4c4" stroke-width="1" />
<path d="M35.5,133.6 C37.15,133.6 43.57,133.93 45.4,133.6 C47.23,133.27 46.07,132.78 46.5,131.6 C46.93,130.42 47.52,128.13 48,126.5 C48.48,124.87 48.78,123.32 49.4,121.8 C50.02,120.28 50.83,118.6 51.7,117.4 C52.57,116.2 53.63,115.35 54.6,114.6 C55.57,113.85 56.43,113.4 57.5,112.9 C58.57,112.4 59.83,111.93 61,111.6 C62.17,111.27 62.93,110.93 64.5,110.9 C66.07,110.87 68.65,111.05 70.4,111.4 C72.15,111.75 73.25,112.43 75,113 C76.75,113.57 79.23,114.28 80.9,114.8 C82.57,115.32 83.05,115.43 85,116.1 C86.95,116.77 90.43,118.05 92.6,118.8 C94.77,119.55 96.05,119.92 98,120.6 C99.95,121.28 102.3,122.07 104.3,122.9 C106.3,123.73 107.8,124.78 110,125.6 C112.2,126.42 114.17,127.1 117.5,127.8 C120.83,128.5 124.58,129.17 130,129.8 C135.42,130.43 143.33,131.15 150,131.6 C156.67,132.05 163.33,132.27 170,132.5 C176.67,132.73 182.23,132.85 190,133 C197.77,133.15 212.17,133.33 216.6,133.4" stroke="#f8a0a4" stroke-width="0.7" fill="none" />
<g stroke="#f7868c" stroke-width="0.55" fill="#fff"><circle cx="35.8" cy="133.6" r="1.5"/><circle cx="37.1" cy="133.64" r="1.5"/><circle cx="38.4" cy="133.71" r="1.5"/><circle cx="39.7" cy="133.79" r="1.5"/><circle cx="41" cy="133.85" r="1.5"/><circle cx="42.3" cy="133.87" r="1.5"/><circle cx="43.6" cy="133.82" r="1.5"/><circle cx="44.9" cy="133.68" r="1.5"/><circle cx="46.2" cy="132.39" r="1.5"/><circle cx="47.5" cy="128.27" r="1.5"/><circle cx="48.8" cy="123.64" r="1.5"/><circle cx="50.1" cy="120.2" r="1.5"/><circle cx="51.4" cy="117.84" r="1.5"/><circle cx="52.7" cy="116.21" r="1.5"/><circle cx="54" cy="115.07" r="1.5"/><circle cx="55.3" cy="114.1" r="1.5"/><circle cx="56.6" cy="113.34" r="1.5"/><circle cx="57.9" cy="112.72" r="1.5"/><circle cx="59.2" cy="112.19" r="1.5"/><circle cx="60.5" cy="111.75" r="1.5"/><circle cx="61.8" cy="111.37" r="1.5"/><circle cx="63.1" cy="111.06" r="1.5"/><circle cx="64.4" cy="110.9" r="1.5"/><circle cx="65.7" cy="110.9" r="1.5"/><circle cx="67" cy="110.95" r="1.5"/><circle cx="68.3" cy="111.07" r="1.5"/><circle cx="69.6" cy="111.25" r="1.5"/><circle cx="70.9" cy="111.52" r="1.5"/><circle cx="72.2" cy="111.94" r="1.5"/><circle cx="73.5" cy="112.45" r="1.5"/><circle cx="74.8" cy="112.93" r="1.5"/><circle cx="76.1" cy="113.35" r="1.5"/><circle cx="77.4" cy="113.75" r="1.5"/><circle cx="78.7" cy="114.13" r="1.5"/><circle cx="80" cy="114.52" r="1.5"/><circle cx="81.3" cy="114.92" r="1.5"/><circle cx="82.6" cy="115.32" r="1.5"/><circle cx="83.9" cy="115.74" r="1.5"/><circle cx="85.2" cy="116.17" r="1.5"/><circle cx="86.5" cy="116.62" r="1.5"/><circle cx="87.8" cy="117.09" r="1.5"/><circle cx="89.1" cy="117.55" r="1.5"/><circle cx="90.4" cy="118.02" r="1.5"/><circle cx="91.7" cy="118.49" r="1.5"/><circle cx="93" cy="118.94" r="1.5"/><circle cx="94.3" cy="119.37" r="1.5"/><circle cx="95.6" cy="119.79" r="1.5"/><circle cx="96.9" cy="120.22" r="1.5"/><circle cx="98.2" cy="120.67" r="1.5"/><circle cx="99.5" cy="121.12" r="1.5"/><circle cx="100.8" cy="121.57" r="1.5"/><circle cx="102.1" cy="122.04" r="1.5"/><circle cx="103.4" cy="122.54" r="1.5"/><circle cx="104.7" cy="123.07" r="1.5"/><circle cx="106" cy="123.69" r="1.5"/><circle cx="107.3" cy="124.36" r="1.5"/><circle cx="108.6" cy="125" r="1.5"/><circle cx="109.9" cy="125.56" r="1.5"/><circle cx="111.2" cy="126.03" r="1.5"/><circle cx="112.5" cy="126.47" r="1.5"/><circle cx="113.8" cy="126.87" r="1.5"/><circle cx="115.1" cy="127.23" r="1.5"/><circle cx="116.4" cy="127.55" r="1.5"/><circle cx="117.7" cy="127.84" r="1.5"/><circle cx="119" cy="128.1" r="1.5"/><circle cx="120.3" cy="128.35" r="1.5"/><circle cx="121.6" cy="128.59" r="1.5"/><circle cx="122.9" cy="128.81" r="1.5"/><circle cx="124.2" cy="129.02" r="1.5"/><circle cx="125.5" cy="129.21" r="1.5"/><circle cx="126.8" cy="129.39" r="1.5"/><circle cx="128.1" cy="129.57" r="1.5"/><circle cx="129.4" cy="129.73" r="1.5"/><circle cx="130.7" cy="129.88" r="1.5"/><circle cx="132" cy="130.03" r="1.5"/><circle cx="133.3" cy="130.17" r="1.5"/><circle cx="134.6" cy="130.31" r="1.5"/><circle cx="135.9" cy="130.44" r="1.5"/><circle cx="137.2" cy="130.56" r="1.5"/><circle cx="138.5" cy="130.69" r="1.5"/><circle cx="139.8" cy="130.81" r="1.5"/><circle cx="141.1" cy="130.92" r="1.5"/><circle cx="142.4" cy="131.03" r="1.5"/><circle cx="143.7" cy="131.14" r="1.5"/><circle cx="145" cy="131.24" r="1.5"/><circle cx="146.3" cy="131.34" r="1.5"/><circle cx="147.6" cy="131.43" r="1.5"/><circle cx="148.9" cy="131.52" r="1.5"/><circle cx="150.2" cy="131.61" r="1.5"/><circle cx="151.5" cy="131.7" r="1.5"/><circle cx="152.8" cy="131.78" r="1.5"/><circle cx="154.1" cy="131.85" r="1.5"/><circle cx="155.4" cy="131.92" r="1.5"/><circle cx="156.7" cy="131.98" r="1.5"/><circle cx="158" cy="132.04" r="1.5"/><circle cx="159.3" cy="132.1" r="1.5"/><circle cx="160.6" cy="132.16" r="1.5"/><circle cx="161.9" cy="132.21" r="1.5"/><circle cx="163.2" cy="132.26" r="1.5"/><circle cx="164.5" cy="132.31" r="1.5"/><circle cx="165.8" cy="132.35" r="1.5"/><circle cx="167.1" cy="132.4" r="1.5"/><circle cx="168.4" cy="132.44" r="1.5"/><circle cx="169.7" cy="132.49" r="1.5"/><circle cx="171" cy="132.53" r="1.5"/><circle cx="172.3" cy="132.58" r="1.5"/><circle cx="173.6" cy="132.62" r="1.5"/><circle cx="174.9" cy="132.66" r="1.5"/><circle cx="176.2" cy="132.69" r="1.5"/><circle cx="177.5" cy="132.73" r="1.5"/><circle cx="178.8" cy="132.76" r="1.5"/><circle cx="180.1" cy="132.79" r="1.5"/><circle cx="181.4" cy="132.82" r="1.5"/><circle cx="182.7" cy="132.85" r="1.5"/><circle cx="184" cy="132.88" r="1.5"/><circle cx="185.3" cy="132.91" r="1.5"/><circle cx="186.6" cy="132.93" r="1.5"/><circle cx="187.9" cy="132.96" r="1.5"/><circle cx="189.2" cy="132.98" r="1.5"/><circle cx="190.5" cy="133.01" r="1.5"/><circle cx="191.8" cy="133.03" r="1.5"/><circle cx="193.1" cy="133.06" r="1.5"/><circle cx="194.4" cy="133.08" r="1.5"/><circle cx="195.7" cy="133.1" r="1.5"/><circle cx="197" cy="133.12" r="1.5"/><circle cx="198.3" cy="133.14" r="1.5"/><circle cx="199.6" cy="133.16" r="1.5"/><circle cx="200.9" cy="133.18" r="1.5"/><circle cx="202.2" cy="133.2" r="1.5"/><circle cx="203.5" cy="133.22" r="1.5"/><circle cx="204.8" cy="133.24" r="1.5"/><circle cx="206.1" cy="133.25" r="1.5"/><circle cx="207.4" cy="133.27" r="1.5"/><circle cx="208.7" cy="133.29" r="1.5"/><circle cx="210" cy="133.31" r="1.5"/><circle cx="211.3" cy="133.32" r="1.5"/><circle cx="212.6" cy="133.34" r="1.5"/><circle cx="213.9" cy="133.36" r="1.5"/><circle cx="215.2" cy="133.38" r="1.5"/><circle cx="216.5" cy="133.4" r="1.5"/></g>
<rect x="34.8" y="13.4" width="182.4" height="127.1" fill="none" stroke="#7b7b7b" stroke-width="1.3" />
<line x1="46.2" y1="140.5" x2="46.2" y2="137.7" stroke="#7b7b7b" stroke-width="1" />
<line x1="60.49" y1="140.5" x2="60.49" y2="139" stroke="#7b7b7b" stroke-width="1" />
<line x1="74.78" y1="140.5" x2="74.78" y2="137.7" stroke="#7b7b7b" stroke-width="1" />
<line x1="89.07" y1="140.5" x2="89.07" y2="139" stroke="#7b7b7b" stroke-width="1" />
<line x1="103.36" y1="140.5" x2="103.36" y2="137.7" stroke="#7b7b7b" stroke-width="1" />
<line x1="117.65" y1="140.5" x2="117.65" y2="139" stroke="#7b7b7b" stroke-width="1" />
<line x1="131.94" y1="140.5" x2="131.94" y2="137.7" stroke="#7b7b7b" stroke-width="1" />
<line x1="146.23" y1="140.5" x2="146.23" y2="139" stroke="#7b7b7b" stroke-width="1" />
<line x1="160.52" y1="140.5" x2="160.52" y2="137.7" stroke="#7b7b7b" stroke-width="1" />
<line x1="174.81" y1="140.5" x2="174.81" y2="139" stroke="#7b7b7b" stroke-width="1" />
<line x1="189.1" y1="140.5" x2="189.1" y2="137.7" stroke="#7b7b7b" stroke-width="1" />
<line x1="203.39" y1="140.5" x2="203.39" y2="139" stroke="#7b7b7b" stroke-width="1" />
<line x1="217.68" y1="140.5" x2="217.68" y2="137.7" stroke="#7b7b7b" stroke-width="1" />
<text x="46.2" y="152.3" font-size="10" fill="#1a1a1a" text-anchor="middle" >450</text>
<text x="74.78" y="152.3" font-size="10" fill="#1a1a1a" text-anchor="middle" >500</text>
<text x="103.36" y="152.3" font-size="10" fill="#1a1a1a" text-anchor="middle" >550</text>
<text x="131.94" y="152.3" font-size="10" fill="#1a1a1a" text-anchor="middle" >600</text>
<text x="160.52" y="152.3" font-size="10" fill="#1a1a1a" text-anchor="middle" >650</text>
<text x="189.1" y="152.3" font-size="10" fill="#1a1a1a" text-anchor="middle" >700</text>
<text x="217.68" y="152.3" font-size="10" fill="#1a1a1a" text-anchor="middle" >750</text>
<text x="129.9" y="165.7" font-size="10" fill="#1a1a1a" text-anchor="middle" >Wavelength (nm)</text>
<text x="23.6" y="72.9" font-size="10" fill="#1a1a1a" text-anchor="middle" transform="rotate(-90 23.6 72.9)">PL intensity (a.u.)</text>
<text x="188.2" y="25.2" font-size="10" fill="#1a1a1a" text-anchor="start" >10 K</text>
<text x="212.3" y="88.2" font-size="10" fill="#5f9c97" text-anchor="end" >Sr<tspan font-size="7" dy="2.2">2</tspan><tspan dy="-2.2">TiO</tspan><tspan font-size="7" dy="2.2">4</tspan><tspan dy="-2.2">-N</tspan></text>
<text x="214.7" y="127.8" font-size="10" fill="#f86d75" text-anchor="end" >Sr<tspan font-size="7" dy="2.2">2</tspan><tspan dy="-2.2">TiO</tspan><tspan font-size="7" dy="2.2">4</tspan><tspan dy="-2.2">-NF</tspan></text>
<line x1="259.6" y1="29.4" x2="442.8" y2="29.4" stroke="#2f8fd3" stroke-width="1.2" />
<path d="M268.1,29.4 C268.65,28.9 270.08,26.95 271.4,26.4 C272.72,25.85 274.57,26.2 276,26.1 C277.43,26 278.35,26.27 280,25.8 C281.65,25.33 284.07,23.67 285.9,23.3 C287.73,22.93 289.37,23.52 291,23.6 C292.63,23.68 294.3,24.48 295.7,23.8 C297.1,23.12 298.03,18.95 299.4,19.5 C300.77,20.05 302.38,26.7 303.9,27.1 C305.42,27.5 307.02,23.17 308.5,21.9 C309.98,20.63 311.42,19.12 312.8,19.5 C314.18,19.88 315.43,24.25 316.8,24.2 C318.17,24.15 319.55,19.53 321,19.2 C322.45,18.87 324.3,21.43 325.5,22.2 C326.7,22.97 327.35,22.6 328.2,23.8 C329.05,25 330.2,28.47 330.6,29.4" stroke="#2f8fd3" stroke-width="1.1" fill="none" />
<path d="M268.1,29.4 C268.65,29.9 270.08,31.85 271.4,32.4 C272.72,32.95 274.57,32.6 276,32.7 C277.43,32.8 278.35,32.53 280,33 C281.65,33.47 284.07,35.13 285.9,35.5 C287.73,35.87 289.37,35.28 291,35.2 C292.63,35.12 294.3,34.32 295.7,35 C297.1,35.68 298.03,39.85 299.4,39.3 C300.77,38.75 302.38,32.1 303.9,31.7 C305.42,31.3 307.02,35.63 308.5,36.9 C309.98,38.17 311.42,39.68 312.8,39.3 C314.18,38.92 315.43,34.55 316.8,34.6 C318.17,34.65 319.55,39.27 321,39.6 C322.45,39.93 324.3,37.37 325.5,36.6 C326.7,35.83 327.35,36.2 328.2,35 C329.05,33.8 330.2,30.33 330.6,29.4" stroke="#2f8fd3" stroke-width="1.1" fill="none" />
<path d="M353,29.4 C353.83,29.37 356.22,29.3 358,29.2 C359.78,29.1 362.32,29.2 363.7,28.8 C365.08,28.4 365.38,27.57 366.3,26.8 C367.22,26.03 368.1,24.42 369.2,24.2 C370.3,23.98 371.3,25.57 372.9,25.5 C374.5,25.43 377.28,23.73 378.8,23.8 C380.32,23.87 380.92,25.02 382,25.9 C383.08,26.78 383.97,28.65 385.3,29.1 C386.63,29.55 388.47,28.98 390,28.6 C391.53,28.22 393.2,26.72 394.5,26.8 C395.8,26.88 396.72,29.03 397.8,29.1 C398.88,29.17 399.9,27.75 401,27.2 C402.1,26.65 402.9,26.18 404.4,25.8 C405.9,25.42 408.37,25.52 410,24.9 C411.63,24.28 412.73,21.88 414.2,22.1 C415.67,22.32 416.93,25.55 418.8,26.2 C420.67,26.85 423.53,26.22 425.4,26 C427.27,25.78 428.58,25.32 430,24.9 C431.42,24.48 432.73,23.25 433.9,23.5 C435.07,23.75 436.15,25.42 437,26.4 C437.85,27.38 438.67,28.9 439,29.4" stroke="#2f8fd3" stroke-width="1.1" fill="none" />
<path d="M353,29.4 C353.83,29.43 356.22,29.5 358,29.6 C359.78,29.7 362.32,29.6 363.7,30 C365.08,30.4 365.38,31.23 366.3,32 C367.22,32.77 368.1,34.38 369.2,34.6 C370.3,34.82 371.3,33.23 372.9,33.3 C374.5,33.37 377.28,35.07 378.8,35 C380.32,34.93 380.92,33.78 382,32.9 C383.08,32.02 383.97,30.15 385.3,29.7 C386.63,29.25 388.47,29.82 390,30.2 C391.53,30.58 393.2,32.08 394.5,32 C395.8,31.92 396.72,29.77 397.8,29.7 C398.88,29.63 399.9,31.05 401,31.6 C402.1,32.15 402.9,32.62 404.4,33 C405.9,33.38 408.37,33.28 410,33.9 C411.63,34.52 412.73,36.92 414.2,36.7 C415.67,36.48 416.93,33.25 418.8,32.6 C420.67,31.95 423.53,32.58 425.4,32.8 C427.27,33.02 428.58,33.48 430,33.9 C431.42,34.32 432.73,35.55 433.9,35.3 C435.07,35.05 436.15,33.38 437,32.4 C437.85,31.42 438.67,29.9 439,29.4" stroke="#2f8fd3" stroke-width="1.1" fill="none" />
<line x1="259.6" y1="61.4" x2="442.8" y2="61.4" stroke="#2f8fd3" stroke-width="1.2" />
<path d="M269.6,61.4 C270.25,61.1 272.23,60.1 273.5,59.6 C274.77,59.1 275.78,58.83 277.2,58.4 C278.62,57.97 280.38,57.42 282,57 C283.62,56.58 285.07,56.22 286.9,55.9 C288.73,55.58 290.92,55.33 293,55.1 C295.08,54.87 297.53,54.02 299.4,54.5 C301.27,54.98 302.12,58.35 304.2,58 C306.28,57.65 309.93,52.87 311.9,52.4 C313.87,51.93 314.62,55.2 316,55.2 C317.38,55.2 318.87,52.45 320.2,52.4 C321.53,52.35 322.9,54.37 324,54.9 C325.1,55.43 325.82,54.52 326.8,55.6 C327.78,56.68 329.38,60.43 329.9,61.4" stroke="#2f8fd3" stroke-width="1.1" fill="none" />
<path d="M269.6,61.4 C270.25,61.7 272.23,62.7 273.5,63.2 C274.77,63.7 275.78,63.97 277.2,64.4 C278.62,64.83 280.38,65.38 282,65.8 C283.62,66.22 285.07,66.58 286.9,66.9 C288.73,67.22 290.92,67.47 293,67.7 C295.08,67.93 297.53,68.78 299.4,68.3 C301.27,67.82 302.12,64.45 304.2,64.8 C306.28,65.15 309.93,69.93 311.9,70.4 C313.87,70.87 314.62,67.6 316,67.6 C317.38,67.6 318.87,70.35 320.2,70.4 C321.53,70.45 322.9,68.43 324,67.9 C325.1,67.37 325.82,68.28 326.8,67.2 C327.78,66.12 329.38,62.37 329.9,61.4" stroke="#2f8fd3" stroke-width="1.1" fill="none" />
<path d="M353.8,61.4 C354.5,61.37 356.55,61.3 358,61.2 C359.45,61.1 361.08,61.23 362.5,60.8 C363.92,60.37 365.03,59.35 366.5,58.6 C367.97,57.85 369.77,56.43 371.3,56.3 C372.83,56.17 374,57.75 375.7,57.8 C377.4,57.85 380.17,56.6 381.5,56.6 C382.83,56.6 382.48,57.05 383.7,57.8 C384.92,58.55 387.33,60.73 388.8,61.1 C390.27,61.47 391.28,60.35 392.5,60 C393.72,59.65 394.77,59.27 396.1,59 C397.43,58.73 399.08,58.77 400.5,58.4 C401.92,58.03 403.43,56.95 404.6,56.8 C405.77,56.65 406,57.83 407.5,57.5 C409,57.17 411.85,54.83 413.6,54.8 C415.35,54.77 416.6,56.92 418,57.3 C419.4,57.68 420.53,57.22 422,57.1 C423.47,56.98 424.92,56.98 426.8,56.6 C428.68,56.22 431.6,54.73 433.3,54.8 C435,54.87 435.9,55.9 437,57 C438.1,58.1 439.42,60.67 439.9,61.4" stroke="#2f8fd3" stroke-width="1.1" fill="none" />
<path d="M353.8,61.4 C354.5,61.43 356.55,61.5 358,61.6 C359.45,61.7 361.08,61.57 362.5,62 C363.92,62.43 365.03,63.45 366.5,64.2 C367.97,64.95 369.77,66.37 371.3,66.5 C372.83,66.63 374,65.05 375.7,65 C377.4,64.95 380.17,66.2 381.5,66.2 C382.83,66.2 382.48,65.75 383.7,65 C384.92,64.25 387.33,62.07 388.8,61.7 C390.27,61.33 391.28,62.45 392.5,62.8 C393.72,63.15 394.77,63.53 396.1,63.8 C397.43,64.07 399.08,64.03 400.5,64.4 C401.92,64.77 403.43,65.85 404.6,66 C405.77,66.15 406,64.97 407.5,65.3 C409,65.63 411.85,67.97 413.6,68 C415.35,68.03 416.6,65.88 418,65.5 C419.4,65.12 420.53,65.58 422,65.7 C423.47,65.82 424.92,65.82 426.8,66.2 C428.68,66.58 431.6,68.07 433.3,68 C435,67.93 435.9,66.9 437,65.8 C438.1,64.7 439.42,62.13 439.9,61.4" stroke="#2f8fd3" stroke-width="1.1" fill="none" />
<line x1="259.6" y1="93.4" x2="442.8" y2="93.4" stroke="#2f8fd3" stroke-width="1.2" />
<path d="M270.3,93.4 C270.92,92.98 272.62,91.55 274,90.9 C275.38,90.25 277.27,89.85 278.6,89.5 C279.93,89.15 280.85,89 282,88.8 C283.15,88.6 284,88.33 285.5,88.3 C287,88.27 289.38,88.72 291,88.6 C292.62,88.48 293.75,88 295.2,87.6 C296.65,87.2 298.43,85.97 299.7,86.2 C300.97,86.43 301.23,89.18 302.8,89 C304.37,88.82 307.35,85.75 309.1,85.1 C310.85,84.45 312.03,84.68 313.3,85.1 C314.57,85.52 315.55,87.42 316.7,87.6 C317.85,87.78 318.82,86.27 320.2,86.2 C321.58,86.13 323.73,86.47 325,87.2 C326.27,87.93 326.98,89.57 327.8,90.6 C328.62,91.63 329.55,92.93 329.9,93.4" stroke="#2f8fd3" stroke-width="1.1" fill="none" />
<path d="M270.3,93.4 C270.92,93.82 272.62,95.25 274,95.9 C275.38,96.55 277.27,96.95 278.6,97.3 C279.93,97.65 280.85,97.8 282,98 C283.15,98.2 284,98.47 285.5,98.5 C287,98.53 289.38,98.08 291,98.2 C292.62,98.32 293.75,98.8 295.2,99.2 C296.65,99.6 298.43,100.83 299.7,100.6 C300.97,100.37 301.23,97.62 302.8,97.8 C304.37,97.98 307.35,101.05 309.1,101.7 C310.85,102.35 312.03,102.12 313.3,101.7 C314.57,101.28 315.55,99.38 316.7,99.2 C317.85,99.02 318.82,100.53 320.2,100.6 C321.58,100.67 323.73,100.33 325,99.6 C326.27,98.87 326.98,97.23 327.8,96.2 C328.62,95.17 329.55,93.87 329.9,93.4" stroke="#2f8fd3" stroke-width="1.1" fill="none" />
<path d="M350.8,93.4 C351.83,93.35 354.72,93.22 357,93.1 C359.28,92.98 362.83,93.12 364.5,92.7 C366.17,92.28 365.95,91.25 367,90.6 C368.05,89.95 369.57,88.85 370.8,88.8 C372.03,88.75 373.28,90.18 374.4,90.3 C375.52,90.42 376.52,89.8 377.5,89.5 C378.48,89.2 379.3,88.35 380.3,88.5 C381.3,88.65 382.45,89.68 383.5,90.4 C384.55,91.12 385.68,92.5 386.6,92.8 C387.52,93.1 387.77,92.4 389,92.2 C390.23,92 392.17,91.83 394,91.6 C395.83,91.37 398.17,91.05 400,90.8 C401.83,90.55 403.5,90.32 405,90.1 C406.5,89.88 407.57,89.95 409,89.5 C410.43,89.05 412.43,87.52 413.6,87.4 C414.77,87.28 415.18,88.52 416,88.8 C416.82,89.08 417.5,89.1 418.5,89.1 C419.5,89.1 420.62,88.88 422,88.8 C423.38,88.72 425.38,88.5 426.8,88.6 C428.22,88.7 429.5,89.07 430.5,89.4 C431.5,89.73 432.08,89.93 432.8,90.6 C433.52,91.27 434.47,92.93 434.8,93.4" stroke="#2f8fd3" stroke-width="1.1" fill="none" />
<path d="M350.8,93.4 C351.83,93.45 354.72,93.58 357,93.7 C359.28,93.82 362.83,93.68 364.5,94.1 C366.17,94.52 365.95,95.55 367,96.2 C368.05,96.85 369.57,97.95 370.8,98 C372.03,98.05 373.28,96.62 374.4,96.5 C375.52,96.38 376.52,97 377.5,97.3 C378.48,97.6 379.3,98.45 380.3,98.3 C381.3,98.15 382.45,97.12 383.5,96.4 C384.55,95.68 385.68,94.3 386.6,94 C387.52,93.7 387.77,94.4 389,94.6 C390.23,94.8 392.17,94.97 394,95.2 C395.83,95.43 398.17,95.75 400,96 C401.83,96.25 403.5,96.48 405,96.7 C406.5,96.92 407.57,96.85 409,97.3 C410.43,97.75 412.43,99.28 413.6,99.4 C414.77,99.52 415.18,98.28 416,98 C416.82,97.72 417.5,97.7 418.5,97.7 C419.5,97.7 420.62,97.92 422,98 C423.38,98.08 425.38,98.3 426.8,98.2 C428.22,98.1 429.5,97.73 430.5,97.4 C431.5,97.07 432.08,96.87 432.8,96.2 C433.52,95.53 434.47,93.87 434.8,93.4" stroke="#2f8fd3" stroke-width="1.1" fill="none" />
<line x1="259.6" y1="125.4" x2="442.8" y2="125.4" stroke="#2f8fd3" stroke-width="1.2" />
<path d="M267.5,125.4 C268.18,125.13 270.22,124.15 271.6,123.8 C272.98,123.45 273.95,123.6 275.8,123.3 C277.65,123 280.62,122.53 282.7,122 C284.78,121.47 286.68,120.33 288.3,120.1 C289.92,119.87 291.13,120.75 292.4,120.6 C293.67,120.45 294.73,119.9 295.9,119.2 C297.07,118.5 298.02,115.87 299.4,116.4 C300.78,116.93 302.77,122.07 304.2,122.4 C305.63,122.73 306.72,119.45 308,118.4 C309.28,117.35 310.45,115.92 311.9,116.1 C313.35,116.28 315.27,119.5 316.7,119.5 C318.13,119.5 319,115.92 320.5,116.1 C322,116.28 324.13,119.4 325.7,120.6 C327.27,121.8 328.73,122.5 329.9,123.3 C331.07,124.1 332.23,125.05 332.7,125.4" stroke="#2f8fd3" stroke-width="1.1" fill="none" />
<path d="M267.5,125.4 C268.18,125.67 270.22,126.65 271.6,127 C272.98,127.35 273.95,127.2 275.8,127.5 C277.65,127.8 280.62,128.27 282.7,128.8 C284.78,129.33 286.68,130.47 288.3,130.7 C289.92,130.93 291.13,130.05 292.4,130.2 C293.67,130.35 294.73,130.9 295.9,131.6 C297.07,132.3 298.02,134.93 299.4,134.4 C300.78,133.87 302.77,128.73 304.2,128.4 C305.63,128.07 306.72,131.35 308,132.4 C309.28,133.45 310.45,134.88 311.9,134.7 C313.35,134.52 315.27,131.3 316.7,131.3 C318.13,131.3 319,134.88 320.5,134.7 C322,134.52 324.13,131.4 325.7,130.2 C327.27,129 328.73,128.3 329.9,127.5 C331.07,126.7 332.23,125.75 332.7,125.4" stroke="#2f8fd3" stroke-width="1.1" fill="none" />
<path d="M352.3,125.4 C353.25,125.37 356.18,125.3 358,125.2 C359.82,125.1 361.72,125.33 363.2,124.8 C364.68,124.27 365.5,122.77 366.9,122 C368.3,121.23 370.27,120.2 371.6,120.2 C372.93,120.2 373.62,121.73 374.9,122 C376.18,122.27 377.72,121.35 379.3,121.8 C380.88,122.25 382.82,124.7 384.4,124.7 C385.98,124.7 387.33,122.08 388.8,121.8 C390.27,121.52 390.77,123 393.2,123 C395.63,123 400.73,122.13 403.4,121.8 C406.07,121.47 407.5,121.5 409.2,121 C410.9,120.5 412.13,118.63 413.6,118.8 C415.07,118.97 415.8,121.58 418,122 C420.2,122.42 424.25,121.73 426.8,121.3 C429.35,120.87 431.48,118.72 433.3,119.4 C435.12,120.08 436.97,124.4 437.7,125.4" stroke="#2f8fd3" stroke-width="1.1" fill="none" />
<path d="M352.3,125.4 C353.25,125.43 356.18,125.5 358,125.6 C359.82,125.7 361.72,125.47 363.2,126 C364.68,126.53 365.5,128.03 366.9,128.8 C368.3,129.57 370.27,130.6 371.6,130.6 C372.93,130.6 373.62,129.07 374.9,128.8 C376.18,128.53 377.72,129.45 379.3,129 C380.88,128.55 382.82,126.1 384.4,126.1 C385.98,126.1 387.33,128.72 388.8,129 C390.27,129.28 390.77,127.8 393.2,127.8 C395.63,127.8 400.73,128.67 403.4,129 C406.07,129.33 407.5,129.3 409.2,129.8 C410.9,130.3 412.13,132.17 413.6,132 C415.07,131.83 415.8,129.22 418,128.8 C420.2,128.38 424.25,129.07 426.8,129.5 C429.35,129.93 431.48,132.08 433.3,131.4 C435.12,130.72 436.97,126.4 437.7,125.4" stroke="#2f8fd3" stroke-width="1.1" fill="none" />
<ellipse cx="334.7" cy="93.4" rx="1.8" ry="1.4" fill="none" stroke="#2f8fd3" stroke-width="1"/>
<ellipse cx="262.8" cy="125.4" rx="3.1" ry="2.9" fill="none" stroke="#2f8fd3" stroke-width="1"/>
<rect x="259.6" y="13.5" width="183.2" height="128" fill="none" stroke="#262626" stroke-width="1.1" />
<line x1="259.6" y1="45.4" x2="442.8" y2="45.4" stroke="#262626" stroke-width="1.1" />
<line x1="259.6" y1="77.5" x2="442.8" y2="77.5" stroke="#262626" stroke-width="1.1" />
<line x1="259.6" y1="109.5" x2="442.8" y2="109.5" stroke="#262626" stroke-width="1.1" />
<line x1="265.8" y1="141.5" x2="265.8" y2="139" stroke="#262626" stroke-width="0.9" />
<line x1="282.18" y1="141.5" x2="282.18" y2="140.1" stroke="#262626" stroke-width="0.9" />
<line x1="298.55" y1="141.5" x2="298.55" y2="139" stroke="#262626" stroke-width="0.9" />
<line x1="314.93" y1="141.5" x2="314.93" y2="140.1" stroke="#262626" stroke-width="0.9" />
<line x1="331.3" y1="141.5" x2="331.3" y2="139" stroke="#262626" stroke-width="0.9" />
<line x1="347.68" y1="141.5" x2="347.68" y2="140.1" stroke="#262626" stroke-width="0.9" />
<line x1="364.05" y1="141.5" x2="364.05" y2="139" stroke="#262626" stroke-width="0.9" />
<line x1="380.43" y1="141.5" x2="380.43" y2="140.1" stroke="#262626" stroke-width="0.9" />
<line x1="396.8" y1="141.5" x2="396.8" y2="139" stroke="#262626" stroke-width="0.9" />
<line x1="413.18" y1="141.5" x2="413.18" y2="140.1" stroke="#262626" stroke-width="0.9" />
<line x1="429.55" y1="141.5" x2="429.55" y2="139" stroke="#262626" stroke-width="0.9" />
<text x="265.8" y="153.1" font-size="10" fill="#1a1a1a" text-anchor="middle" >-5.0</text>
<text x="298.55" y="153.1" font-size="10" fill="#1a1a1a" text-anchor="middle" >-2.5</text>
<text x="331.3" y="153.1" font-size="10" fill="#1a1a1a" text-anchor="middle" >0.0</text>
<text x="364.05" y="153.1" font-size="10" fill="#1a1a1a" text-anchor="middle" >2.5</text>
<text x="396.8" y="153.1" font-size="10" fill="#1a1a1a" text-anchor="middle" >5.0</text>
<text x="429.55" y="153.1" font-size="10" fill="#1a1a1a" text-anchor="middle" >7.5</text>
<text x="351" y="163.1" font-size="9.4" fill="#1a1a1a" text-anchor="middle" >Energy (eV)</text>
<text x="251.6" y="80.7" font-size="9.4" fill="#1a1a1a" text-anchor="middle" transform="rotate(-90 251.6 80.7)">DOS (a. u.)</text>
<text x="440.2" y="22.2" font-size="9.5" fill="#111" text-anchor="end" >None</text>
<text x="440.6" y="54.3" font-size="9.5" fill="#111" text-anchor="end" >Ti<tspan font-size="6.2" dy="-3.6">3+</tspan><tspan dy="3.6"> + V</tspan><tspan font-size="6.5" dy="2.9">O</tspan></text>
<text x="441.2" y="86.5" font-size="9.5" fill="#111" text-anchor="end" >Ti<tspan font-size="6.2" dy="-3.6">3+</tspan><tspan dy="3.6"> + V</tspan><tspan font-size="6.5" dy="2.9">O</tspan><tspan dy="-2.9">+ N</tspan><tspan font-size="6.5" dy="2.9">O</tspan></text>
<text x="441.6" y="117.2" font-size="9.5" fill="#111" text-anchor="end" >F<tspan font-size="6.5" dy="2.9">O</tspan><tspan dy="-2.9">+ N</tspan><tspan font-size="6.5" dy="2.9">O</tspan></text>
<rect x="521" y="29.3" width="135.6" height="94.9" fill="#f4f4f4" stroke="none" stroke-width="1" />
<rect x="521" y="15" width="135.6" height="14.3" fill="#fdd3a6" stroke="none" stroke-width="1" />
<rect x="521" y="38" width="135.6" height="3.8" fill="#f9b9bd" stroke="none" stroke-width="1" />
<rect x="521" y="42.9" width="135.6" height="4.8" fill="#b6b4d2" stroke="none" stroke-width="1" />
<rect x="521" y="50.1" width="135.6" height="5.9" fill="#b1cce6" stroke="none" stroke-width="1" />
<rect x="521" y="124.2" width="135.6" height="14.6" fill="#93b8b5" stroke="none" stroke-width="1" />
<line x1="503" y1="13.54" x2="503" y2="141.15" stroke="#3a3a3a" stroke-width="1.1" />
<line x1="500.4" y1="13.54" x2="503" y2="13.54" stroke="#3a3a3a" stroke-width="0.9" />
<line x1="501.5" y1="22.66" x2="503" y2="22.66" stroke="#3a3a3a" stroke-width="0.9" />
<line x1="500.4" y1="31.77" x2="503" y2="31.77" stroke="#3a3a3a" stroke-width="0.9" />
<line x1="501.5" y1="40.88" x2="503" y2="40.88" stroke="#3a3a3a" stroke-width="0.9" />
<line x1="500.4" y1="50" x2="503" y2="50" stroke="#3a3a3a" stroke-width="0.9" />
<line x1="501.5" y1="59.12" x2="503" y2="59.12" stroke="#3a3a3a" stroke-width="0.9" />
<line x1="500.4" y1="68.23" x2="503" y2="68.23" stroke="#3a3a3a" stroke-width="0.9" />
<line x1="501.5" y1="77.34" x2="503" y2="77.34" stroke="#3a3a3a" stroke-width="0.9" />
<line x1="500.4" y1="86.46" x2="503" y2="86.46" stroke="#3a3a3a" stroke-width="0.9" />
<line x1="501.5" y1="95.58" x2="503" y2="95.58" stroke="#3a3a3a" stroke-width="0.9" />
<line x1="500.4" y1="104.69" x2="503" y2="104.69" stroke="#3a3a3a" stroke-width="0.9" />
<line x1="501.5" y1="113.81" x2="503" y2="113.81" stroke="#3a3a3a" stroke-width="0.9" />
<line x1="500.4" y1="122.92" x2="503" y2="122.92" stroke="#3a3a3a" stroke-width="0.9" />
<line x1="501.5" y1="132.03" x2="503" y2="132.03" stroke="#3a3a3a" stroke-width="0.9" />
<line x1="500.4" y1="141.15" x2="503" y2="141.15" stroke="#3a3a3a" stroke-width="0.9" />
<text x="498.9" y="16.54" font-size="8.5" fill="#1a1a1a" text-anchor="end" >-1.0</text>
<text x="498.9" y="34.77" font-size="8.5" fill="#1a1a1a" text-anchor="end" >-0.5</text>
<text x="498.9" y="53" font-size="8.5" fill="#1a1a1a" text-anchor="end" >0.0</text>
<text x="498.9" y="71.23" font-size="8.5" fill="#1a1a1a" text-anchor="end" >0.5</text>
<text x="498.9" y="89.46" font-size="8.5" fill="#1a1a1a" text-anchor="end" >1.0</text>
<text x="498.9" y="107.69" font-size="8.5" fill="#1a1a1a" text-anchor="end" >1.5</text>
<text x="498.9" y="125.92" font-size="8.5" fill="#1a1a1a" text-anchor="end" >2.0</text>
<text x="498.9" y="144.15" font-size="8.5" fill="#1a1a1a" text-anchor="end" >2.5</text>
<text x="478" y="77.2" font-size="8.8" fill="#1a1a1a" text-anchor="middle" transform="rotate(-90 478 77.2)">Potential vs RHE (V)</text>
<text x="588.3" y="22.8" font-size="8.2" fill="#f28a22" text-anchor="middle" >CB</text>
<text x="589.3" y="136.8" font-size="8.2" fill="#2f5f9e" text-anchor="middle" >VB</text>
<text x="508.7" y="40.8" font-size="7.8" fill="#f27983" text-anchor="start" >Ti<tspan font-size="4.8" dy="-3.2">3+</tspan></text>
<text x="509.5" y="47.7" font-size="7.8" fill="#6e66bf" text-anchor="start" >V<tspan font-size="5.6" dy="1.8">O</tspan></text>
<text x="509.5" y="55.8" font-size="7.8" fill="#3f6ea9" text-anchor="start" >V<tspan font-size="5.6" dy="1.8">O</tspan></text>
<text x="657.4" y="46.2" font-size="8.3" fill="#333" text-anchor="start" >H<tspan font-size="5.8" dy="2">2</tspan><tspan dy="-2">/H</tspan><tspan font-size="5.8" dy="-3.3">+</tspan></text>
<line x1="656.6" y1="49.7" x2="672.4" y2="49.7" stroke="#8a8a8a" stroke-width="1.2" />
<text x="657.8" y="91.3" font-size="8.3" fill="#333" text-anchor="start" >O<tspan font-size="5.8" dy="2">2</tspan><tspan dy="-2">/H</tspan><tspan font-size="5.8" dy="2">2</tspan><tspan dy="-2">O</tspan></text>
<line x1="656.6" y1="94.8" x2="672.9" y2="94.8" stroke="#8a8a8a" stroke-width="1.2" />
<line x1="547.4" y1="33" x2="547.4" y2="124.2" stroke="#f59a3a" stroke-width="0.9" stroke-dasharray="1.6 1.4"/>
<line x1="573.4" y1="42.5" x2="573.4" y2="121" stroke="#f3838a" stroke-width="0.9" stroke-dasharray="1.6 1.4"/>
<line x1="600.5" y1="49.5" x2="600.5" y2="121" stroke="#8a82cc" stroke-width="0.9" stroke-dasharray="1.6 1.4"/>
<line x1="630.4" y1="56.6" x2="630.4" y2="121" stroke="#6f9ad6" stroke-width="0.9" stroke-dasharray="1.6 1.4"/>
<polygon points="547.4,29.6 545.8,32.8 549,32.8" fill="#f59a3a"/>
<polygon points="573.4,123.6 571.8,120.4 575,120.4" fill="#f3838a"/>
<polygon points="600.5,123.6 598.9,120.4 602.1,120.4" fill="#8a82cc"/>
<polygon points="630.4,123.6 628.8,120.4 632,120.4" fill="#6f9ad6"/>
<text x="545.4" y="73" font-size="8.4" fill="#f28a1e" text-anchor="middle" transform="rotate(-90 545.4 73)">2.60 eV</text>
<text x="571.4" y="73" font-size="8.4" fill="#f47680" text-anchor="middle" transform="rotate(-90 571.4 73)">2.37 eV</text>
<text x="598.6" y="73" font-size="8.4" fill="#786ec4" text-anchor="middle" transform="rotate(-90 598.6 73)">2.23 eV</text>
<text x="628.3" y="73" font-size="8.4" fill="#5a8fd2" text-anchor="middle" transform="rotate(-90 628.3 73)">2.08 eV</text>
<line x1="549.5" y1="27.5" x2="627" y2="27.5" stroke="#f59a3a" stroke-width="0.9" stroke-dasharray="1.5 1.5"/>
<polygon points="570.3,27.5 567.42,26.06 567.42,28.94" fill="#f59a3a"/>
<polygon points="597.3,27.5 594.42,26.06 594.42,28.94" fill="#f59a3a"/>
<polygon points="624.3,27.5 621.42,26.06 621.42,28.94" fill="#f59a3a"/>
<line x1="549.5" y1="126.4" x2="630" y2="126.4" stroke="#3f6aa8" stroke-width="0.9" stroke-dasharray="1.8 1.6"/>
<polygon points="569.3,126.4 566.42,124.96 566.42,127.84" fill="#3f6aa8"/>
<polygon points="596.8,126.4 593.92,124.96 593.92,127.84" fill="#3f6aa8"/>
<polygon points="627.3,126.4 624.42,124.96 624.42,127.84" fill="#3f6aa8"/>
<line x1="566.8" y1="40.4" x2="580.4" y2="40.4" stroke="#111" stroke-width="1.3" />
<line x1="593.9" y1="45.3" x2="608" y2="45.3" stroke="#111" stroke-width="1.3" />
<line x1="623.8" y1="52.9" x2="636.8" y2="52.9" stroke="#111" stroke-width="1.3" />
<path d="M574.4,29.8 C576.6,31.2 577.4,35 575.6,38" stroke="#27a29d" stroke-width="1" fill="none" stroke-dasharray="1.5 1.2"/>
<polygon points="575.6,38 576.03,34.76 578.26,36.1" fill="#27a29d"/>
<path d="M600.8,29.8 C604.6,30.6 606.8,38.6 602.6,42.8" stroke="#27a29d" stroke-width="1" fill="none" stroke-dasharray="1.5 1.2"/>
<polygon points="602.6,42.8 603.8,39.76 605.64,41.6" fill="#27a29d"/>
<path d="M628,29.8 C634.2,30.6 637.6,44 630.6,50.6" stroke="#27a29d" stroke-width="1" fill="none" stroke-dasharray="1.5 1.2"/>
<polygon points="630.6,50.6 631.89,47.6 633.67,49.49" fill="#27a29d"/>
<circle cx="547.6" cy="27.4" r="2.0" fill="#f58a1f"/>
<circle cx="573.9" cy="27.4" r="2.0" fill="#f58a1f"/>
<circle cx="600.2" cy="27.5" r="2.0" fill="#f58a1f"/>
<circle cx="627.2" cy="27.6" r="2.0" fill="#f58a1f"/>
<circle cx="570" cy="38.6" r="2.0" fill="#f58a1f"/>
<circle cx="597.1" cy="43.4" r="2.0" fill="#f58a1f"/>
<circle cx="626.4" cy="51.1" r="2.0" fill="#f58a1f"/>
<circle cx="577.2" cy="42.5" r="1.9" fill="#fff" stroke="#4f76a8" stroke-width="0.5"/>
<circle cx="604.4" cy="47.4" r="1.9" fill="#fff" stroke="#4f76a8" stroke-width="0.5"/>
<circle cx="633.2" cy="54.7" r="1.9" fill="#fff" stroke="#4f76a8" stroke-width="0.5"/>
<circle cx="547.1" cy="126.4" r="1.9" fill="#fff" stroke="#4f76a8" stroke-width="0.5"/>
<circle cx="573.1" cy="126.4" r="1.9" fill="#fff" stroke="#4f76a8" stroke-width="0.5"/>
<circle cx="600.4" cy="126.4" r="1.9" fill="#fff" stroke="#4f76a8" stroke-width="0.5"/>
<circle cx="630" cy="126.4" r="1.9" fill="#fff" stroke="#4f76a8" stroke-width="0.5"/>
<path d="M35.4,298.46 L35.56,308.33 L35.72,299.54 L35.88,311.96 L36.04,305.61 L36.2,295.07 L36.36,307.29 L36.52,311.67 L36.68,299.89 L36.84,315.95 L37,313.38 L37.16,295.72 L37.32,305.45 L37.48,314.99 L37.64,298.25 L37.8,297.62 L37.96,304.52 L38.12,302.2 L38.28,298.93 L38.5,300 L38.8,230 L39.3,196.5 L39.6,197.02 L39.9,197.91 L40.2,199.27 L40.5,200.03 L40.8,201.25 L41.1,202.26 L41.4,202.87 L41.7,204.09 L42,205.05 L42.3,205.82 L42.6,206.63 L42.9,207.73 L43.2,208.47 L43.5,209.64 L43.8,210.34 L44.1,211.17 L44.4,212.17 L44.7,212.99 L45,213.8 L45.3,214.21 L45.6,214.93 L45.9,215.7 L46.2,216.3 L46.5,217.39 L46.8,217.71 L47.1,218.28 L47.4,218.77 L47.7,219.87 L48,220.34 L48.3,221.46 L48.6,221.55 L48.9,222.7 L49.2,222.99 L49.5,222.68 L49.8,224.38 L50.1,223.85 L50.4,224.54 L50.7,225.3 L51,225.53 L51.3,226.02 L51.6,226.35 L51.9,227.36 L52.2,228.02 L52.5,228.54 L52.8,229.21 L53.1,229.31 L53.4,230.13 L53.7,229.8 L54,231.62 L54.3,231.73 L54.6,232.14 L54.9,233.18 L55.2,231.71 L55.5,234.28 L55.8,233.63 L56.1,234.19 L56.4,233.52 L56.7,235.85 L57,234.62 L57.3,235.99 L57.6,236.08 L57.9,236.77 L58.2,236.43 L58.5,237.84 L58.8,237.6 L59.1,237.73 L59.4,237.26 L59.7,240.23 L60,238.17 L60.3,238.87 L60.6,240.12 L60.9,239.99 L61.2,240.85 L61.5,239.88 L61.8,241.14 L62.1,241.78 L62.4,242.14 L62.7,242.47 L63,242.8 L63.3,243.65 L63.6,241.96 L63.9,245.15 L64.2,246.95 L64.5,244.44 L64.8,244.78 L65.1,244.72 L65.4,245.47 L65.7,245.75 L66,245.69 L66.3,245.52 L66.6,246.94 L66.9,247.19 L67.2,245.68 L67.5,247.05 L67.8,248.63 L68.1,246.23 L68.4,247.71 L68.7,249.16 L69,249.98 L69.3,248.93 L69.6,250.22 L69.9,250.7 L70.2,251.2 L70.5,250.69 L70.8,249.48 L71.1,251.12 L71.4,252.39 L71.7,250.57 L72,251.37 L72.3,250.87 L72.6,250.77 L72.9,252.29 L73.2,252.49 L73.5,252.62 L73.8,253.99 L74.1,252.36 L74.4,251.91 L74.7,253.29 L75,253.93 L75.3,254.18 L75.6,254.97 L75.9,255.22 L76.2,255 L76.5,255.72 L76.8,255.48 L77.1,257.07 L77.4,255.06 L77.7,255.6 L78,257.24 L78.3,258.99 L78.6,256.34 L78.9,255.34 L79.2,257.66 L79.5,257.59 L79.8,257.93 L80.1,256.72 L80.4,258.86 L80.7,256.8 L81,258.56 L81.3,257.33 L81.6,258.62 L81.9,259.2 L82.2,261.16 L82.5,260.29 L82.8,259.97 L83.1,259.04 L83.4,259.79 L83.7,261.31 L84,260.06 L84.3,259.57 L84.6,261.29 L84.9,261.95 L85.2,262.13 L85.5,260.73 L85.8,261.33 L86.1,263.7 L86.4,262.03 L86.7,263.51 L87,264.18 L87.3,261.57 L87.6,262.36 L87.9,264.9 L88.2,263.9 L88.5,263.52 L88.8,265.52 L89.1,264.93 L89.4,263.98 L89.7,268.38 L90,264.95 L90.3,264.57 L90.6,265.15 L90.9,268.57 L91.2,265.9 L91.5,268.17 L91.8,265.96 L92.1,266.14 L92.4,266.99 L92.7,268.97 L93,268.88 L93.3,266.63 L93.6,269.96 L93.9,267.65 L94.2,267.84 L94.5,269.46 L94.8,265.38 L95.1,269.27 L95.4,266.12 L95.7,274.23 L96,275.09 L96.3,268.53 L96.6,269.33 L96.9,271.32 L97.2,271.03 L97.5,275.47 L97.8,272.65 L98.1,273.79 L98.4,272.23 L98.7,270.31 L99,272.09 L99.3,271.66 L99.6,274.13 L99.9,273.75 L100.2,272.79 L100.5,273.84 L100.8,270.98 L101.1,275.65 L101.4,270.27 L101.7,276.35 L102,272.1 L102.3,276.26 L102.6,271.39 L102.9,274.53 L103.2,274.16 L103.5,273.63 L103.8,276.95 L104.1,278.24 L104.4,281.53 L104.7,273.4 L105,277.92 L105.3,277.84 L105.6,276.63 L105.9,272.65 L106.2,281.89 L106.5,276.51 L106.8,278.29 L107.1,276.22 L107.4,283.03 L107.7,278.86 L108,276.04 L108.3,274.72 L108.6,274.8 L108.9,280.91 L109.2,278.57 L109.5,279.17 L109.8,283.2 L110.1,283.63 L110.4,277.53 L110.7,278.92 L111,280.11 L111.3,276.96 L111.6,283.07 L111.9,278.86 L112.2,280.36 L112.5,280.72 L112.8,279.42 L113.1,280.4 L113.4,280.31 L113.7,280.47 L114,276.74 L114.3,282.44 L114.6,279.05 L114.9,280.19 L115.2,283.05 L115.5,280.01 L115.8,285.09 L116.1,279.41 L116.4,285.26 L116.7,284.32 L117,282 L117.3,280.78 L117.6,280.73 L117.9,280.91 L118.2,284.2 L118.5,287.02 L118.8,282.24 L119.1,283.09 L119.4,287.52 L119.7,281.54 L120,283.84 L120.3,288.05 L120.6,283.41 L120.9,290.01 L121.2,288.23 L121.5,283.95 L121.8,291.71 L122.1,285.36 L122.4,291.03 L122.7,283.52 L123,288.59 L123.3,285.46 L123.6,292.53 L123.9,287.56 L124.2,283.58 L124.5,285.14 L124.8,295.24 L125.1,284.02 L125.4,284.23 L125.7,288.55 L126,283.05 L126.3,291.8 L126.6,287.88 L126.9,284.21 L127.2,283.79 L127.5,283.99 L127.8,292.75 L128.1,296.95 L128.4,286.99 L128.7,295.07 L129,289.09 L129.3,294.53 L129.6,285.37 L129.9,286.25 L130.2,287.14 L130.5,289.13 L130.8,289.14 L131.1,290.61 L131.4,288.16 L131.7,288.74 L132,288.11 L132.3,291.65 L132.6,284.1 L132.9,289.05 L133.2,285.63 L133.5,285.9 L133.8,294.42 L134.1,299.65 L134.4,286.39 L134.7,292.39 L135,290.53 L135.3,292.04 L135.6,290.54 L135.9,297.08 L136.2,291.69 L136.5,293.4 L136.8,291.53 L137.1,307.92 L137.4,288.64 L137.7,290.46 L138,301.96 L138.3,295.42 L138.6,291.93 L138.9,289.75 L139.2,292.25 L139.5,287.48 L139.8,292.35 L140.1,297.62 L140.4,295.88 L140.7,289.87 L141,295.75 L141.3,289.71 L141.6,289.19 L141.9,290.77 L142.2,289.37 L142.5,294.09 L142.8,293.44 L143.1,296.38 L143.4,296.59 L143.7,303.31 L144,296.5 L144.3,299.73 L144.6,302.54 L144.9,293.41 L145.2,292.24 L145.5,295.88 L145.8,289.21 L146.1,290.69 L146.4,290.42 L146.7,297.69 L147,304.17 L147.3,292.42 L147.6,293.51 L147.9,291.94 L148.2,293.23 L148.5,290.23 L148.8,296.64 L149.1,292.48 L149.4,300.43 L149.7,317.1 L150,297.85 L150.3,289.9 L150.6,307.69 L150.9,291.65 L151.2,299.62 L151.5,298.05 L151.8,295.85 L152.1,295.15 L152.4,302.02 L152.7,295.7 L153,294.37 L153.3,292.88 L153.6,300.86 L153.9,290.54 L154.2,289.52 L154.5,288.16 L154.8,305.95 L155.1,296.09 L155.4,312.43 L155.7,295.3 L156,294.61 L156.3,304.72 L156.6,309.28 L156.9,296.45 L157.2,294.57 L157.5,302.28 L157.8,298.98 L158.1,317.96 L158.4,301.92 L158.7,297.05 L159,297.09 L159.3,291.5 L159.6,305.7 L159.9,317.96 L160.2,295.95 L160.5,301.68 L160.8,296.83 L161.1,294.99 L161.4,295.54 L161.7,292.4 L162,292.76 L162.3,312.59 L162.6,298.97 L162.9,290.82 L163.2,301.11 L163.5,294.43 L163.8,299.18 L164.1,301.39 L164.4,292.37 L164.7,294.35 L165,300.49 L165.3,294.97 L165.6,309.22 L165.9,303.91 L166.2,295.14 L166.5,299.18 L166.8,306.97 L167.1,297.24 L167.4,297.86 L167.7,293.91 L168,295.2 L168.3,301.32 L168.6,302.73 L168.9,300.6 L169.2,301.2 L169.5,293.53 L169.8,293.14 L170.1,293.98 L170.4,298.09 L170.7,301.55 L171,295.84 L171.3,302.31 L171.6,298.98 L171.9,316 L172.2,302.96 L172.5,293.99 L172.8,307.96 L173.1,313.56 L173.4,301.48 L173.7,293.35 L174,294.13 L174.3,302.86 L174.6,303.72 L174.9,301.37 L175.2,307.51 L175.5,300.6 L175.8,302.69 L176.1,314.08 L176.4,304.75 L176.7,302.54 L177,307.18 L177.3,309.79 L177.6,296.65 L177.9,293.04 L178.2,302.95 L178.5,303.93 L178.8,298.59 L179.1,302.69 L179.4,306.88 L179.7,294.96 L180,309.46 L180.3,306.58 L180.6,306.06 L180.9,308.05 L181.2,303.03 L181.5,298.55 L181.8,294.99 L182.1,298.21 L182.4,301.49 L182.7,312.38 L183,302.13 L183.3,308.98 L183.6,302.43 L183.9,297.01 L184.2,300.73 L184.5,303.25 L184.8,307.42 L185.1,302.13 L185.4,301.38 L185.7,309.2 L186,305.53 L186.3,297.64 L186.6,317.96 L186.9,305.16 L187.2,312.07 L187.5,295.11 L187.8,299.03 L188.1,299.5 L188.4,300.12 L188.7,300.73 L189,300.72 L189.3,317.96 L189.6,300.96 L189.9,299.26 L190.2,316.26 L190.5,298.23 L190.8,298.98 L191.1,317.96 L191.4,305.84 L191.7,304.65 L192,306.33 L192.3,300.46 L192.6,314.29 L192.9,304.17 L193.2,301.42 L193.5,298.9 L193.8,302.49 L194.1,304.39 L194.4,299.12 L194.7,317.96 L195,298.05 L195.3,304.94 L195.6,314.28 L195.9,305.88 L196.2,317.96 L196.5,317.96 L196.8,305.18 L197.1,308.95 L197.4,299.09 L197.7,310.08 L198,315.17 L198.3,310.89 L198.6,295.18 L198.9,302.95 L199.2,307.59 L199.5,311.33 L199.8,312.65 L200.1,304.24 L200.4,300.74 L200.7,297.41 L201,297.44 L201.3,301.62 L201.6,308.15 L201.9,310.09 L202.2,317.96 L202.5,311.86 L202.8,300.88 L203.1,305.61 L203.4,301.18 L203.7,316.46 L204,298.61 L204.3,301.61 L204.6,303.1 L204.9,301.05 L205.2,317.96 L205.5,307.44 L205.8,310.66 L206.1,295.08 L206.4,304.61 L206.7,307.04 L207,298.88 L207.3,312.5 L207.6,296.53 L207.9,308.79 L208.2,303.83 L208.5,310.95 L208.8,299.12 L209.1,317.96 L209.4,299.68 L209.7,309.97 L210,303.17 L210.3,313.83 L210.6,302.12 L210.9,302.36 L211.2,300.2 L211.5,301.65 L211.8,300.05 L212.1,298.34 L212.4,306.23 L212.7,314.27 L213,315.71 L213.3,299.79 L213.6,306.16 L213.9,298.11 L214.2,303.27 L214.5,312.18 L214.8,298.77 L215.1,294.77 L215.4,304.77 L215.7,311.37 L216,310.38 L216.3,298.86 L216.6,307.92" stroke="#6ea4a2" stroke-width="0.6" fill="none" />
<path d="M35.47,304.17 L35.63,299.54 L35.79,306.44 L35.95,300.27 L36.11,294.19 L36.27,297.16 L36.43,290.52 L36.59,294.11 L36.75,289.93 L36.91,305.25 L37.07,302.55 L37.23,296.24 L37.39,291.55 L37.55,297.11 L37.71,306.99 L37.87,309.41 L38.03,301.14 L38.19,299.66 L38.35,289.82 L38.5,296 L38.8,225 L39.3,196 L39.6,197.17 L39.9,198.23 L40.2,199.05 L40.5,200.5 L40.8,201.24 L41.1,202.55 L41.4,203.03 L41.7,204.08 L42,204.81 L42.3,205.99 L42.6,206.71 L42.9,207.69 L43.2,208.61 L43.5,209.27 L43.8,210.34 L44.1,210.96 L44.4,211.52 L44.7,212.4 L45,213.24 L45.3,213.42 L45.6,214.6 L45.9,215.45 L46.2,215.97 L46.5,216.81 L46.8,217.43 L47.1,218.07 L47.4,218.08 L47.7,219.19 L48,219.74 L48.3,220.17 L48.6,220.35 L48.9,221.52 L49.2,222.17 L49.5,221.79 L49.8,223.48 L50.1,223.65 L50.4,223.83 L50.7,223.83 L51,225.35 L51.3,226.37 L51.6,225.81 L51.9,226.7 L52.2,227.14 L52.5,227.32 L52.8,227.87 L53.1,228.31 L53.4,229.04 L53.7,228.84 L54,229.2 L54.3,230.19 L54.6,230.82 L54.9,230.77 L55.2,231.28 L55.5,232.32 L55.8,232.47 L56.1,232.22 L56.4,233.09 L56.7,233.57 L57,233.7 L57.3,234.17 L57.6,234.52 L57.9,235.8 L58.2,234.43 L58.5,235.49 L58.8,236.37 L59.1,235.82 L59.4,236.49 L59.7,236.99 L60,236.82 L60.3,236.58 L60.6,237.76 L60.9,237.58 L61.2,237.63 L61.5,239.65 L61.8,239.72 L62.1,239.34 L62.4,241.1 L62.7,240.58 L63,240.02 L63.3,240.48 L63.6,241.05 L63.9,242.88 L64.2,240.65 L64.5,241.97 L64.8,242.14 L65.1,242.6 L65.4,244.33 L65.7,244.44 L66,244.59 L66.3,242.88 L66.6,244.92 L66.9,244.8 L67.2,245.09 L67.5,244.81 L67.8,245.12 L68.1,245.54 L68.4,246.9 L68.7,248.65 L69,246.38 L69.3,246.55 L69.6,246.12 L69.9,247.3 L70.2,247.91 L70.5,247.38 L70.8,249.13 L71.1,248.94 L71.4,249.14 L71.7,248.35 L72,247.26 L72.3,248.42 L72.6,248.35 L72.9,249.24 L73.2,249.42 L73.5,250.21 L73.8,250.28 L74.1,252.39 L74.4,251.48 L74.7,251.77 L75,250.18 L75.3,250.51 L75.6,250.33 L75.9,250.19 L76.2,251.92 L76.5,250.97 L76.8,250.45 L77.1,252.26 L77.4,251.52 L77.7,252.8 L78,254.38 L78.3,252.94 L78.6,254.02 L78.9,253.35 L79.2,254.09 L79.5,253.56 L79.8,256.22 L80.1,252.43 L80.4,253.24 L80.7,255.02 L81,255.8 L81.3,255.09 L81.6,254.66 L81.9,255.1 L82.2,255.33 L82.5,258.06 L82.8,257.33 L83.1,255.05 L83.4,256.32 L83.7,258.44 L84,257.92 L84.3,258.8 L84.6,258.53 L84.9,256.41 L85.2,258.06 L85.5,256.86 L85.8,258.04 L86.1,260.23 L86.4,259.41 L86.7,256.5 L87,259.98 L87.3,260.55 L87.6,258.14 L87.9,259.6 L88.2,259.92 L88.5,258.49 L88.8,262.62 L89.1,260.04 L89.4,262.09 L89.7,262.78 L90,262.2 L90.3,260 L90.6,261.74 L90.9,264.3 L91.2,263.45 L91.5,260.34 L91.8,261.11 L92.1,264.06 L92.4,259.91 L92.7,263.46 L93,264.85 L93.3,263.54 L93.6,262.34 L93.9,261.71 L94.2,262.6 L94.5,264.73 L94.8,265.12 L95.1,266.71 L95.4,264.8 L95.7,265.76 L96,264.73 L96.3,267.21 L96.6,266.22 L96.9,266.98 L97.2,267.7 L97.5,267.87 L97.8,267.79 L98.1,268.26 L98.4,265.72 L98.7,266.58 L99,269.08 L99.3,266.32 L99.6,266.82 L99.9,265.34 L100.2,267.92 L100.5,268.12 L100.8,269.1 L101.1,267.94 L101.4,267.54 L101.7,268.2 L102,269.07 L102.3,267.92 L102.6,268.83 L102.9,268.75 L103.2,270.96 L103.5,269.14 L103.8,271.43 L104.1,271.31 L104.4,269.69 L104.7,266.92 L105,268.66 L105.3,270.43 L105.6,270.91 L105.9,269.12 L106.2,268.66 L106.5,269.04 L106.8,271.54 L107.1,271.02 L107.4,272.11 L107.7,272.18 L108,273.44 L108.3,272.4 L108.6,276.75 L108.9,274.64 L109.2,271.59 L109.5,274.35 L109.8,271.66 L110.1,275.46 L110.4,273.63 L110.7,272.31 L111,275.33 L111.3,274.76 L111.6,269.35 L111.9,274.97 L112.2,275.17 L112.5,275.02 L112.8,273.91 L113.1,274.16 L113.4,272.41 L113.7,272.87 L114,275.33 L114.3,275.36 L114.6,277.96 L114.9,278.32 L115.2,276.6 L115.5,273.71 L115.8,275.01 L116.1,273.81 L116.4,273.68 L116.7,275.99 L117,271.93 L117.3,277.04 L117.6,277.41 L117.9,277.09 L118.2,274.03 L118.5,276.7 L118.8,278.23 L119.1,275.74 L119.4,274.51 L119.7,277.16 L120,277.6 L120.3,274.95 L120.6,275.26 L120.9,275.45 L121.2,279.37 L121.5,277.05 L121.8,277 L122.1,282.76 L122.4,275.54 L122.7,277.94 L123,279.1 L123.3,273.98 L123.6,278.21 L123.9,280.46 L124.2,278.94 L124.5,277.64 L124.8,277.23 L125.1,279.29 L125.4,281.5 L125.7,281.17 L126,281.63 L126.3,282.43 L126.6,279.79 L126.9,281.11 L127.2,279.84 L127.5,282.28 L127.8,282.52 L128.1,280.78 L128.4,281.32 L128.7,277.92 L129,283.12 L129.3,280.24 L129.6,280.96 L129.9,284.76 L130.2,279.33 L130.5,280.75 L130.8,288.09 L131.1,279.91 L131.4,279.25 L131.7,283.81 L132,277.86 L132.3,281.38 L132.6,285.28 L132.9,280.56 L133.2,283.05 L133.5,286.25 L133.8,289.6 L134.1,281.71 L134.4,284.56 L134.7,280.9 L135,281.62 L135.3,284.19 L135.6,284.32 L135.9,278.78 L136.2,278.98 L136.5,281.16 L136.8,284.17 L137.1,286.25 L137.4,284.45 L137.7,279.45 L138,282.29 L138.3,284.43 L138.6,287.62 L138.9,283.31 L139.2,286.58 L139.5,283.91 L139.8,282.08 L140.1,281.37 L140.4,283.81 L140.7,285.3 L141,283.74 L141.3,280.07 L141.6,283.51 L141.9,289.42 L142.2,280.83 L142.5,284.1 L142.8,277.29 L143.1,286.43 L143.4,285.35 L143.7,286.06 L144,284.18 L144.3,287.17 L144.6,290.7 L144.9,292.91 L145.2,285.98 L145.5,287.32 L145.8,287.64 L146.1,280.61 L146.4,283.74 L146.7,283.07 L147,287.74 L147.3,285.33 L147.6,286.96 L147.9,287.03 L148.2,284.35 L148.5,284.81 L148.8,285.73 L149.1,286.28 L149.4,292.26 L149.7,289.43 L150,285.84 L150.3,288.27 L150.6,289.86 L150.9,286.15 L151.2,290.61 L151.5,289.72 L151.8,284.91 L152.1,288.76 L152.4,283.68 L152.7,286.13 L153,285.4 L153.3,284.63 L153.6,297.76 L153.9,288.29 L154.2,293.13 L154.5,289.79 L154.8,288.6 L155.1,284.74 L155.4,288.54 L155.7,283.89 L156,290.4 L156.3,288.8 L156.6,288.37 L156.9,285.91 L157.2,288.99 L157.5,291.13 L157.8,290.11 L158.1,294.8 L158.4,285.38 L158.7,286.83 L159,287.84 L159.3,288.37 L159.6,291.58 L159.9,290.87 L160.2,286.95 L160.5,292.55 L160.8,292.59 L161.1,285.08 L161.4,285.18 L161.7,288.81 L162,288.11 L162.3,289.27 L162.6,285.72 L162.9,291.66 L163.2,289.79 L163.5,288.54 L163.8,285.89 L164.1,291.16 L164.4,289.51 L164.7,292.21 L165,292.96 L165.3,293.01 L165.6,290.24 L165.9,287.75 L166.2,293.36 L166.5,293.02 L166.8,292.27 L167.1,289.59 L167.4,288.55 L167.7,296.34 L168,289.74 L168.3,295.16 L168.6,288.7 L168.9,295.11 L169.2,295.76 L169.5,294.06 L169.8,291.48 L170.1,295.5 L170.4,290.6 L170.7,290.87 L171,291.15 L171.3,290.54 L171.6,288.66 L171.9,294.56 L172.2,291.62 L172.5,291.78 L172.8,302.68 L173.1,290.4 L173.4,294.99 L173.7,294.8 L174,293.65 L174.3,291.58 L174.6,290.8 L174.9,290.33 L175.2,294.92 L175.5,289.72 L175.8,290.67 L176.1,293.73 L176.4,292.3 L176.7,289.54 L177,290.77 L177.3,289.95 L177.6,291.99 L177.9,288.69 L178.2,285.91 L178.5,290.89 L178.8,300.52 L179.1,287.23 L179.4,294.98 L179.7,299.27 L180,307.33 L180.3,291.21 L180.6,289.13 L180.9,289.44 L181.2,294.39 L181.5,288.23 L181.8,293.22 L182.1,295.44 L182.4,292.73 L182.7,292.23 L183,292.87 L183.3,291.63 L183.6,306.23 L183.9,288.13 L184.2,295.59 L184.5,290.91 L184.8,296.77 L185.1,292.67 L185.4,294.02 L185.7,301.5 L186,291.96 L186.3,291.14 L186.6,298.68 L186.9,305.91 L187.2,296.29 L187.5,297.3 L187.8,293.13 L188.1,293.66 L188.4,288.41 L188.7,291.31 L189,294.72 L189.3,293.08 L189.6,317.74 L189.9,297.9 L190.2,298.02 L190.5,294.26 L190.8,292.63 L191.1,293.05 L191.4,290.61 L191.7,296.98 L192,292.79 L192.3,294.51 L192.6,293.96 L192.9,292.81 L193.2,295.23 L193.5,293.27 L193.8,294.25 L194.1,290.56 L194.4,294.62 L194.7,293.02 L195,286.46 L195.3,291.94 L195.6,292.35 L195.9,290.52 L196.2,299.12 L196.5,291.74 L196.8,291.63 L197.1,292.72 L197.4,290.95 L197.7,291.58 L198,290.33 L198.3,297.36 L198.6,292.85 L198.9,296.93 L199.2,290.26 L199.5,294.03 L199.8,301.24 L200.1,294.17 L200.4,299.47 L200.7,291.14 L201,296.12 L201.3,309.04 L201.6,296.39 L201.9,291.08 L202.2,293.47 L202.5,297.63 L202.8,292.37 L203.1,292.63 L203.4,289.83 L203.7,291.57 L204,293.43 L204.3,298.55 L204.6,293.77 L204.9,293.72 L205.2,294.87 L205.5,293.31 L205.8,300.96 L206.1,292.8 L206.4,294.94 L206.7,293.6 L207,295.41 L207.3,296.31 L207.6,294.02 L207.9,292.15 L208.2,296.45 L208.5,293.79 L208.8,298.67 L209.1,293.48 L209.4,295.03 L209.7,301.79 L210,291.01 L210.3,299.42 L210.6,294.83 L210.9,302.06 L211.2,305.28 L211.5,292.71 L211.8,302.72 L212.1,308.64 L212.4,296.15 L212.7,303.87 L213,296.12 L213.3,289.23 L213.6,297.01 L213.9,293.88 L214.2,293.15 L214.5,294.32 L214.8,295.83 L215.1,290.18 L215.4,295.69 L215.7,293.96 L216,294.92 L216.3,302.12 L216.6,294.13" stroke="#fb8286" stroke-width="0.6" fill="none" />
<line x1="38.9" y1="300" x2="38.9" y2="197" stroke="#f9a6a8" stroke-width="0.8" />
<path d="M39.3,196 C39.67,197.25 40.67,200.9 41.5,203.5 C42.33,206.1 43.3,208.98 44.3,211.6 C45.3,214.22 46.32,216.73 47.5,219.2 C48.68,221.67 50.15,224.22 51.4,226.4 C52.65,228.58 53.8,230.48 55,232.3 C56.2,234.12 57.1,235.38 58.6,237.3 C60.1,239.22 62.1,241.72 64,243.8 C65.9,245.88 67.33,247.53 70,249.8 C72.67,252.07 75.95,254.23 80,257.4 C84.05,260.57 89.97,265.57 94.3,268.8 C98.63,272.03 101.97,274.32 106,276.8 C110.03,279.28 114.5,281.67 118.5,283.7 C122.5,285.73 125.95,287.38 130,289 C134.05,290.62 138.63,292.08 142.8,293.4 C146.97,294.72 150.95,295.88 155,296.9 C159.05,297.92 162.93,298.75 167.1,299.5 C171.27,300.25 175.95,300.88 180,301.4 C184.05,301.92 187.57,302.28 191.4,302.6 C195.23,302.92 198.8,303.13 203,303.3 C207.2,303.47 214.33,303.55 216.6,303.6" stroke="#3f6a68" stroke-width="1.4" fill="none" />
<path d="M39.3,196 C39.67,197.25 40.67,200.93 41.5,203.5 C42.33,206.07 43.3,208.85 44.3,211.4 C45.3,213.95 46.32,216.42 47.5,218.8 C48.68,221.18 50.15,223.63 51.4,225.7 C52.65,227.77 53.8,229.53 55,231.2 C56.2,232.87 57.1,233.93 58.6,235.7 C60.1,237.47 62.1,239.87 64,241.8 C65.9,243.73 67.33,245.23 70,247.3 C72.67,249.37 75.95,251.42 80,254.2 C84.05,256.98 89.97,261.23 94.3,264 C98.63,266.77 101.97,268.73 106,270.8 C110.03,272.87 114.5,274.7 118.5,276.4 C122.5,278.1 125.95,279.58 130,281 C134.05,282.42 138.63,283.68 142.8,284.9 C146.97,286.12 150.95,287.32 155,288.3 C159.05,289.28 162.93,290.07 167.1,290.8 C171.27,291.53 175.95,292.18 180,292.7 C184.05,293.22 187.57,293.55 191.4,293.9 C195.23,294.25 198.8,294.55 203,294.8 C207.2,295.05 214.33,295.3 216.6,295.4" stroke="#f5434a" stroke-width="1.4" fill="none" />
<rect x="35" y="194.9" width="182.2" height="127.55" fill="none" stroke="#6a6a6a" stroke-width="1.2" />
<line x1="35" y1="312.54" x2="36.6" y2="312.54" stroke="#333" stroke-width="0.9" />
<line x1="35" y1="306.95" x2="36.6" y2="306.95" stroke="#333" stroke-width="0.9" />
<line x1="35" y1="302.98" x2="36.6" y2="302.98" stroke="#333" stroke-width="0.9" />
<line x1="35" y1="299.91" x2="36.6" y2="299.91" stroke="#333" stroke-width="0.9" />
<line x1="35" y1="297.39" x2="36.6" y2="297.39" stroke="#333" stroke-width="0.9" />
<line x1="35" y1="295.27" x2="36.6" y2="295.27" stroke="#333" stroke-width="0.9" />
<line x1="35" y1="293.43" x2="36.6" y2="293.43" stroke="#333" stroke-width="0.9" />
<line x1="35" y1="291.8" x2="36.6" y2="291.8" stroke="#333" stroke-width="0.9" />
<line x1="35" y1="280.79" x2="36.6" y2="280.79" stroke="#333" stroke-width="0.9" />
<line x1="35" y1="275.2" x2="36.6" y2="275.2" stroke="#333" stroke-width="0.9" />
<line x1="35" y1="271.23" x2="36.6" y2="271.23" stroke="#333" stroke-width="0.9" />
<line x1="35" y1="268.16" x2="36.6" y2="268.16" stroke="#333" stroke-width="0.9" />
<line x1="35" y1="265.64" x2="36.6" y2="265.64" stroke="#333" stroke-width="0.9" />
<line x1="35" y1="263.52" x2="36.6" y2="263.52" stroke="#333" stroke-width="0.9" />
<line x1="35" y1="261.68" x2="36.6" y2="261.68" stroke="#333" stroke-width="0.9" />
<line x1="35" y1="260.05" x2="36.6" y2="260.05" stroke="#333" stroke-width="0.9" />
<line x1="35" y1="249.04" x2="36.6" y2="249.04" stroke="#333" stroke-width="0.9" />
<line x1="35" y1="243.45" x2="36.6" y2="243.45" stroke="#333" stroke-width="0.9" />
<line x1="35" y1="239.48" x2="36.6" y2="239.48" stroke="#333" stroke-width="0.9" />
<line x1="35" y1="236.41" x2="36.6" y2="236.41" stroke="#333" stroke-width="0.9" />
<line x1="35" y1="233.89" x2="36.6" y2="233.89" stroke="#333" stroke-width="0.9" />
<line x1="35" y1="231.77" x2="36.6" y2="231.77" stroke="#333" stroke-width="0.9" />
<line x1="35" y1="229.93" x2="36.6" y2="229.93" stroke="#333" stroke-width="0.9" />
<line x1="35" y1="228.3" x2="36.6" y2="228.3" stroke="#333" stroke-width="0.9" />
<line x1="35" y1="217.29" x2="36.6" y2="217.29" stroke="#333" stroke-width="0.9" />
<line x1="35" y1="211.7" x2="36.6" y2="211.7" stroke="#333" stroke-width="0.9" />
<line x1="35" y1="207.73" x2="36.6" y2="207.73" stroke="#333" stroke-width="0.9" />
<line x1="35" y1="204.66" x2="36.6" y2="204.66" stroke="#333" stroke-width="0.9" />
<line x1="35" y1="202.14" x2="36.6" y2="202.14" stroke="#333" stroke-width="0.9" />
<line x1="35" y1="200.02" x2="36.6" y2="200.02" stroke="#333" stroke-width="0.9" />
<line x1="35" y1="198.18" x2="36.6" y2="198.18" stroke="#333" stroke-width="0.9" />
<line x1="35" y1="196.55" x2="36.6" y2="196.55" stroke="#333" stroke-width="0.9" />
<line x1="35" y1="322.1" x2="37.8" y2="322.1" stroke="#3a3a3a" stroke-width="1" />
<text x="27.4" y="326.4" font-size="10" fill="#1a1a1a" text-anchor="end" >10</text>
<text x="27.6" y="323.4" font-size="7" fill="#1a1a1a" text-anchor="start" >0</text>
<line x1="35" y1="290.35" x2="37.8" y2="290.35" stroke="#3a3a3a" stroke-width="1" />
<text x="27.4" y="294.65" font-size="10" fill="#1a1a1a" text-anchor="end" >10</text>
<text x="27.6" y="291.65" font-size="7" fill="#1a1a1a" text-anchor="start" >1</text>
<line x1="35" y1="258.6" x2="37.8" y2="258.6" stroke="#3a3a3a" stroke-width="1" />
<text x="27.4" y="262.9" font-size="10" fill="#1a1a1a" text-anchor="end" >10</text>
<text x="27.6" y="259.9" font-size="7" fill="#1a1a1a" text-anchor="start" >2</text>
<line x1="35" y1="226.85" x2="37.8" y2="226.85" stroke="#3a3a3a" stroke-width="1" />
<text x="27.4" y="231.15" font-size="10" fill="#1a1a1a" text-anchor="end" >10</text>
<text x="27.6" y="228.15" font-size="7" fill="#1a1a1a" text-anchor="start" >3</text>
<line x1="35" y1="195.1" x2="37.8" y2="195.1" stroke="#3a3a3a" stroke-width="1" />
<text x="27.4" y="199.4" font-size="10" fill="#1a1a1a" text-anchor="end" >10</text>
<text x="27.6" y="196.4" font-size="7" fill="#1a1a1a" text-anchor="start" >4</text>
<line x1="35" y1="322.45" x2="35" y2="319.85" stroke="#3a3a3a" stroke-width="1" />
<line x1="53.2" y1="322.45" x2="53.2" y2="321.05" stroke="#3a3a3a" stroke-width="1" />
<line x1="71.4" y1="322.45" x2="71.4" y2="319.85" stroke="#3a3a3a" stroke-width="1" />
<line x1="89.6" y1="322.45" x2="89.6" y2="321.05" stroke="#3a3a3a" stroke-width="1" />
<line x1="107.8" y1="322.45" x2="107.8" y2="319.85" stroke="#3a3a3a" stroke-width="1" />
<line x1="126" y1="322.45" x2="126" y2="321.05" stroke="#3a3a3a" stroke-width="1" />
<line x1="144.2" y1="322.45" x2="144.2" y2="319.85" stroke="#3a3a3a" stroke-width="1" />
<line x1="162.4" y1="322.45" x2="162.4" y2="321.05" stroke="#3a3a3a" stroke-width="1" />
<line x1="180.6" y1="322.45" x2="180.6" y2="319.85" stroke="#3a3a3a" stroke-width="1" />
<line x1="198.8" y1="322.45" x2="198.8" y2="321.05" stroke="#3a3a3a" stroke-width="1" />
<line x1="217" y1="322.45" x2="217" y2="319.85" stroke="#3a3a3a" stroke-width="1" />
<text x="35" y="333.6" font-size="10" fill="#1a1a1a" text-anchor="middle" >0</text>
<text x="71.4" y="333.6" font-size="10" fill="#1a1a1a" text-anchor="middle" >20</text>
<text x="107.8" y="333.6" font-size="10" fill="#1a1a1a" text-anchor="middle" >40</text>
<text x="144.2" y="333.6" font-size="10" fill="#1a1a1a" text-anchor="middle" >60</text>
<text x="180.6" y="333.6" font-size="10" fill="#1a1a1a" text-anchor="middle" >80</text>
<text x="217" y="333.6" font-size="10" fill="#1a1a1a" text-anchor="middle" >100</text>
<text x="126.3" y="347.5" font-size="10" fill="#1a1a1a" text-anchor="middle" >Time (ns)</text>
<text x="13.4" y="257.3" font-size="10" fill="#1a1a1a" text-anchor="middle" transform="rotate(-90 13.4 257.3)">PL intensity (a.u.)</text>
<line x1="65.2" y1="210.1" x2="81" y2="210.1" stroke="#4c6e6b" stroke-width="1.6" />
<line x1="65.2" y1="224.3" x2="81" y2="224.3" stroke="#ff4f55" stroke-width="1.6" />
<text x="87.6" y="213.6" font-size="10" fill="#4a6d6b" text-anchor="start" >Sr<tspan font-size="7" dy="2.6">2</tspan><tspan dy="-2.6">TiO</tspan><tspan font-size="7" dy="2.6">4</tspan><tspan dy="-2.6">-N</tspan></text>
<text x="87.6" y="227.8" font-size="10" fill="#ff4e55" text-anchor="start" >Sr<tspan font-size="7" dy="2.6">2</tspan><tspan dy="-2.6">TiO</tspan><tspan font-size="7" dy="2.6">4</tspan><tspan dy="-2.6">-NF</tspan></text>
<text x="147.8" y="213.6" font-size="10" fill="#4a6d6b" text-anchor="start" >τ<tspan font-size="7" dy="2.6">a</tspan><tspan dy="-2.6"> = 6.47 ns</tspan></text>
<text x="147.8" y="227.8" font-size="10" fill="#ff4e55" text-anchor="start" >τ<tspan font-size="7" dy="2.6">a</tspan><tspan dy="-2.6"> = 9.93 ns</tspan></text>
<path d="M274.6,285.5 C274.77,283.92 275.25,279.42 275.6,276 C275.95,272.58 276.25,268.93 276.7,265 C277.15,261.07 277.72,256.07 278.3,252.4 C278.88,248.73 279.5,245.82 280.2,243 C280.9,240.18 281.7,237.73 282.5,235.5 C283.3,233.27 284.08,231.38 285,229.6 C285.92,227.82 286.83,226.17 288,224.8 C289.17,223.43 290.5,222.23 292,221.4 C293.5,220.57 294.83,220.17 297,219.8 C299.17,219.43 299.5,219.33 305,219.2 C310.5,219.07 306.83,219.03 330,219 C353.17,218.97 425,219 444,219" stroke="#5c9895" stroke-width="1" fill="none" />
<path d="M274.8,318.5 C274.93,318.03 275.23,316.87 275.6,315.7 C275.97,314.53 276.43,312.82 277,311.5 C277.57,310.18 278.25,308.95 279,307.8 C279.75,306.65 280.58,305.6 281.5,304.6 C282.42,303.6 283.42,302.63 284.5,301.8 C285.58,300.97 286.75,300.27 288,299.6 C289.25,298.93 290.5,298.33 292,297.8 C293.5,297.27 294.83,296.77 297,296.4 C299.17,296.03 299.5,295.8 305,295.6 C310.5,295.4 306.83,295.27 330,295.2 C353.17,295.13 425,295.2 444,295.2" stroke="#fb8c8f" stroke-width="1" fill="none" />
<rect x="299.8" y="218.8" width="5.4" height="5.4" fill="#5c9895" stroke="none" stroke-width="1" />
<rect x="284.1" y="223.9" width="5.4" height="5.4" fill="#5c9895" stroke="none" stroke-width="1" />
<rect x="278.3" y="239.3" width="5.4" height="5.4" fill="#5c9895" stroke="none" stroke-width="1" />
<rect x="275.6" y="249.7" width="5.4" height="5.4" fill="#5c9895" stroke="none" stroke-width="1" />
<rect x="274" y="262.5" width="5.4" height="5.4" fill="#5c9895" stroke="none" stroke-width="1" />
<rect x="272.7" y="278.9" width="5.4" height="5.4" fill="#5c9895" stroke="none" stroke-width="1" />
<rect x="433.1" y="216.1" width="5.4" height="5.4" fill="#5c9895" stroke="none" stroke-width="1" />
<rect x="300.2" y="293.1" width="5.4" height="5.4" fill="#fb7a7e" stroke="none" stroke-width="1" />
<rect x="283.8" y="298.2" width="5.4" height="5.4" fill="#fb7a7e" stroke="none" stroke-width="1" />
<rect x="278.5" y="302.9" width="5.4" height="5.4" fill="#fb7a7e" stroke="none" stroke-width="1" />
<rect x="275.9" y="305.8" width="5.4" height="5.4" fill="#fb7a7e" stroke="none" stroke-width="1" />
<rect x="274.3" y="308.2" width="5.4" height="5.4" fill="#fb7a7e" stroke="none" stroke-width="1" />
<rect x="273.2" y="310.9" width="5.4" height="5.4" fill="#fb7a7e" stroke="none" stroke-width="1" />
<rect x="272.9" y="313" width="5.4" height="5.4" fill="#fb7a7e" stroke="none" stroke-width="1" />
<rect x="433.1" y="292.6" width="5.4" height="5.4" fill="#fb7a7e" stroke="none" stroke-width="1" />
<rect x="261.3" y="194.8" width="183.3" height="127.65" fill="none" stroke="#6a6a6a" stroke-width="1.2" />
<line x1="269.7" y1="322.45" x2="269.7" y2="320.05" stroke="#3a3a3a" stroke-width="1" />
<line x1="286.36" y1="322.45" x2="286.36" y2="321.15" stroke="#3a3a3a" stroke-width="1" />
<line x1="303.02" y1="322.45" x2="303.02" y2="320.05" stroke="#3a3a3a" stroke-width="1" />
<line x1="319.68" y1="322.45" x2="319.68" y2="321.15" stroke="#3a3a3a" stroke-width="1" />
<line x1="336.34" y1="322.45" x2="336.34" y2="320.05" stroke="#3a3a3a" stroke-width="1" />
<line x1="353" y1="322.45" x2="353" y2="321.15" stroke="#3a3a3a" stroke-width="1" />
<line x1="369.66" y1="322.45" x2="369.66" y2="320.05" stroke="#3a3a3a" stroke-width="1" />
<line x1="386.32" y1="322.45" x2="386.32" y2="321.15" stroke="#3a3a3a" stroke-width="1" />
<line x1="402.98" y1="322.45" x2="402.98" y2="320.05" stroke="#3a3a3a" stroke-width="1" />
<line x1="419.64" y1="322.45" x2="419.64" y2="321.15" stroke="#3a3a3a" stroke-width="1" />
<line x1="436.3" y1="322.45" x2="436.3" y2="320.05" stroke="#3a3a3a" stroke-width="1" />
<text x="269.7" y="333.4" font-size="10" fill="#1a1a1a" text-anchor="middle" >0.00</text>
<text x="303.02" y="333.4" font-size="10" fill="#1a1a1a" text-anchor="middle" >0.02</text>
<text x="336.34" y="333.4" font-size="10" fill="#1a1a1a" text-anchor="middle" >0.04</text>
<text x="369.66" y="333.4" font-size="10" fill="#1a1a1a" text-anchor="middle" >0.06</text>
<text x="402.98" y="333.4" font-size="10" fill="#1a1a1a" text-anchor="middle" >0.08</text>
<text x="436.3" y="333.4" font-size="10" fill="#1a1a1a" text-anchor="middle" >0.10</text>
<text x="354.7" y="346.6" font-size="10" fill="#1a1a1a" text-anchor="middle" >1/T (K<tspan font-size="7" dy="-3.6">-1</tspan><tspan dy="3.6">)</tspan></text>
<text x="254.8" y="262.8" font-size="10" fill="#1a1a1a" text-anchor="middle" transform="rotate(-90 254.8 262.8)">Integrated PL (a.u.)</text>
<text x="311" y="212.2" font-size="10.2" fill="#5b9893" text-anchor="start" xml:space="preserve">Sr<tspan font-size="7.1" dy="2.4">2</tspan><tspan dy="-2.4">TiO</tspan><tspan font-size="7.1" dy="2.4">4</tspan><tspan dy="-2.4">-N  E</tspan><tspan font-size="7.1" dy="2.4">b</tspan><tspan dy="-2.4"> = 42 meV</tspan></text>
<text x="305.2" y="287.2" font-size="10.2" fill="#f8767b" text-anchor="start" xml:space="preserve">Sr<tspan font-size="7.1" dy="2.4">2</tspan><tspan dy="-2.4">TiO</tspan><tspan font-size="7.1" dy="2.4">4</tspan><tspan dy="-2.4">-NF  E</tspan><tspan font-size="7.1" dy="2.4">b</tspan><tspan dy="-2.4"> = 28 meV</tspan></text>
<g stroke="#6ea8a4" stroke-width="0.55" fill="#fff"><circle cx="492.6" cy="311.2" r="1.75"/><circle cx="493.81" cy="308.74" r="1.75"/><circle cx="495.02" cy="306.71" r="1.75"/><circle cx="496.24" cy="304.83" r="1.75"/><circle cx="497.45" cy="302.97" r="1.75"/><circle cx="498.66" cy="301.33" r="1.75"/><circle cx="499.87" cy="300" r="1.75"/><circle cx="501.08" cy="299.28" r="1.75"/><circle cx="502.3" cy="298.83" r="1.75"/><circle cx="503.51" cy="298.43" r="1.75"/><circle cx="504.72" cy="298.09" r="1.75"/><circle cx="505.93" cy="297.81" r="1.75"/><circle cx="507.14" cy="297.58" r="1.75"/><circle cx="508.36" cy="297.37" r="1.75"/><circle cx="509.57" cy="297.23" r="1.75"/><circle cx="510.78" cy="297.17" r="1.75"/><circle cx="511.99" cy="297.23" r="1.75"/><circle cx="513.2" cy="297.45" r="1.75"/><circle cx="514.42" cy="297.89" r="1.75"/><circle cx="515.63" cy="298.44" r="1.75"/><circle cx="516.84" cy="298.96" r="1.75"/><circle cx="518.05" cy="299.5" r="1.75"/><circle cx="519.26" cy="300.06" r="1.75"/><circle cx="520.48" cy="300.62" r="1.75"/><circle cx="521.69" cy="301.2" r="1.75"/><circle cx="522.9" cy="301.79" r="1.75"/><circle cx="524.11" cy="302.37" r="1.75"/><circle cx="525.32" cy="302.96" r="1.75"/><circle cx="526.54" cy="303.57" r="1.75"/><circle cx="527.75" cy="304.19" r="1.75"/><circle cx="528.96" cy="304.77" r="1.75"/><circle cx="530.17" cy="305.27" r="1.75"/><circle cx="531.38" cy="305.7" r="1.75"/><circle cx="532.6" cy="306.08" r="1.75"/><circle cx="533.81" cy="306.39" r="1.75"/><circle cx="535.02" cy="306.6" r="1.75"/><circle cx="536.23" cy="306.65" r="1.75"/><circle cx="537.44" cy="306.56" r="1.75"/><circle cx="538.66" cy="306.47" r="1.75"/><circle cx="539.87" cy="306.49" r="1.75"/><circle cx="541.08" cy="306.66" r="1.75"/><circle cx="542.29" cy="306.91" r="1.75"/><circle cx="543.5" cy="307.24" r="1.75"/><circle cx="544.72" cy="307.68" r="1.75"/><circle cx="545.93" cy="308.3" r="1.75"/><circle cx="547.14" cy="309.14" r="1.75"/><circle cx="548.35" cy="310" r="1.75"/><circle cx="549.56" cy="310.66" r="1.75"/><circle cx="550.78" cy="310.94" r="1.75"/><circle cx="551.99" cy="310.94" r="1.75"/><circle cx="553.2" cy="310.77" r="1.75"/><circle cx="554.41" cy="310.52" r="1.75"/><circle cx="555.62" cy="310.24" r="1.75"/><circle cx="556.84" cy="309.78" r="1.75"/><circle cx="558.05" cy="309.28" r="1.75"/><circle cx="559.26" cy="308.9" r="1.75"/><circle cx="560.47" cy="308.8" r="1.75"/><circle cx="561.68" cy="308.99" r="1.75"/><circle cx="562.9" cy="309.34" r="1.75"/><circle cx="564.11" cy="309.74" r="1.75"/><circle cx="565.32" cy="310.09" r="1.75"/><circle cx="566.53" cy="310.44" r="1.75"/><circle cx="567.74" cy="310.8" r="1.75"/><circle cx="568.96" cy="311.15" r="1.75"/><circle cx="570.17" cy="311.44" r="1.75"/><circle cx="571.38" cy="311.68" r="1.75"/><circle cx="572.59" cy="311.89" r="1.75"/><circle cx="573.8" cy="312.04" r="1.75"/><circle cx="575.02" cy="312.1" r="1.75"/><circle cx="576.23" cy="312.05" r="1.75"/><circle cx="577.44" cy="311.91" r="1.75"/><circle cx="578.65" cy="311.72" r="1.75"/><circle cx="579.86" cy="311.52" r="1.75"/><circle cx="581.08" cy="311.32" r="1.75"/><circle cx="582.29" cy="311.09" r="1.75"/><circle cx="583.5" cy="310.85" r="1.75"/><circle cx="584.71" cy="310.64" r="1.75"/><circle cx="585.92" cy="310.47" r="1.75"/><circle cx="587.14" cy="310.31" r="1.75"/><circle cx="588.35" cy="310.18" r="1.75"/><circle cx="589.56" cy="310.11" r="1.75"/><circle cx="590.77" cy="310.12" r="1.75"/><circle cx="591.98" cy="310.21" r="1.75"/><circle cx="593.2" cy="310.35" r="1.75"/><circle cx="594.41" cy="310.52" r="1.75"/><circle cx="595.62" cy="310.69" r="1.75"/><circle cx="596.83" cy="310.9" r="1.75"/><circle cx="598.04" cy="311.13" r="1.75"/><circle cx="599.26" cy="311.36" r="1.75"/><circle cx="600.47" cy="311.58" r="1.75"/><circle cx="601.68" cy="311.79" r="1.75"/><circle cx="602.89" cy="312.01" r="1.75"/><circle cx="604.1" cy="312.23" r="1.75"/><circle cx="605.32" cy="312.46" r="1.75"/><circle cx="606.53" cy="312.73" r="1.75"/><circle cx="607.74" cy="313.01" r="1.75"/><circle cx="608.95" cy="313.29" r="1.75"/><circle cx="610.16" cy="313.53" r="1.75"/><circle cx="611.38" cy="313.78" r="1.75"/><circle cx="612.59" cy="314.03" r="1.75"/><circle cx="613.8" cy="314.22" r="1.75"/><circle cx="615.01" cy="314.3" r="1.75"/><circle cx="616.22" cy="314.2" r="1.75"/><circle cx="617.44" cy="313.96" r="1.75"/><circle cx="618.65" cy="313.72" r="1.75"/><circle cx="619.86" cy="313.6" r="1.75"/><circle cx="621.07" cy="313.68" r="1.75"/><circle cx="622.28" cy="313.88" r="1.75"/><circle cx="623.5" cy="314.13" r="1.75"/><circle cx="624.71" cy="314.36" r="1.75"/><circle cx="625.92" cy="314.5" r="1.75"/><circle cx="627.13" cy="314.59" r="1.75"/><circle cx="628.34" cy="314.69" r="1.75"/><circle cx="629.56" cy="314.83" r="1.75"/><circle cx="630.77" cy="315.08" r="1.75"/><circle cx="631.98" cy="315.47" r="1.75"/><circle cx="633.19" cy="315.87" r="1.75"/><circle cx="634.4" cy="316.15" r="1.75"/><circle cx="635.62" cy="316.19" r="1.75"/><circle cx="636.83" cy="316.05" r="1.75"/><circle cx="638.04" cy="315.78" r="1.75"/><circle cx="639.25" cy="315.43" r="1.75"/><circle cx="640.46" cy="315.03" r="1.75"/><circle cx="641.68" cy="314.45" r="1.75"/><circle cx="642.89" cy="313.84" r="1.75"/><circle cx="644.1" cy="313.39" r="1.75"/><circle cx="645.31" cy="313.03" r="1.75"/><circle cx="646.52" cy="313" r="1.75"/><circle cx="647.74" cy="313.69" r="1.75"/><circle cx="648.95" cy="314.57" r="1.75"/><circle cx="650.16" cy="315.16" r="1.75"/><circle cx="651.37" cy="315.6" r="1.75"/><circle cx="652.58" cy="315.72" r="1.75"/><circle cx="653.8" cy="315.64" r="1.75"/><circle cx="655.01" cy="315.46" r="1.75"/><circle cx="656.22" cy="315.24" r="1.75"/><circle cx="657.43" cy="315" r="1.75"/><circle cx="658.64" cy="314.56" r="1.75"/><circle cx="659.86" cy="314.17" r="1.75"/><circle cx="661.07" cy="314.22" r="1.75"/><circle cx="662.28" cy="314.97" r="1.75"/><circle cx="663.49" cy="316.12" r="1.75"/><circle cx="664.7" cy="317.2" r="1.75"/><circle cx="665.92" cy="317.93" r="1.75"/><circle cx="667.13" cy="318.53" r="1.75"/><circle cx="668.34" cy="319.06" r="1.75"/><circle cx="669.55" cy="319.53" r="1.75"/><circle cx="670.76" cy="319.95" r="1.75"/><circle cx="671.98" cy="320.27" r="1.75"/><circle cx="673.19" cy="320.54" r="1.75"/><circle cx="674.4" cy="320.8" r="1.75"/></g>
<g stroke="#f8868b" stroke-width="0.55" fill="#fff"><circle cx="492.6" cy="304.31" r="2"/><circle cx="493.81" cy="300.03" r="2"/><circle cx="495.02" cy="296.7" r="2"/><circle cx="496.24" cy="293.89" r="2"/><circle cx="497.45" cy="290.46" r="2"/><circle cx="498.66" cy="286.28" r="2"/><circle cx="499.87" cy="281.35" r="2"/><circle cx="501.08" cy="276.96" r="2"/><circle cx="502.3" cy="271.99" r="2"/><circle cx="503.51" cy="265.71" r="2"/><circle cx="504.72" cy="258.8" r="2"/><circle cx="505.93" cy="251.21" r="2"/><circle cx="507.14" cy="244.08" r="2"/><circle cx="508.36" cy="239.08" r="2"/><circle cx="509.57" cy="234.21" r="2"/><circle cx="510.78" cy="229.08" r="2"/><circle cx="511.99" cy="224.38" r="2"/><circle cx="513.2" cy="220.12" r="2"/><circle cx="514.42" cy="216.39" r="2"/><circle cx="515.63" cy="213.2" r="2"/><circle cx="516.84" cy="210.65" r="2"/><circle cx="518.05" cy="209.17" r="2"/><circle cx="519.26" cy="208.32" r="2"/><circle cx="520.48" cy="207.97" r="2"/><circle cx="521.69" cy="208.28" r="2"/><circle cx="522.9" cy="209.12" r="2"/><circle cx="524.11" cy="211.07" r="2"/><circle cx="525.32" cy="214.13" r="2"/><circle cx="526.54" cy="217.68" r="2"/><circle cx="527.75" cy="221.28" r="2"/><circle cx="528.96" cy="224.4" r="2"/><circle cx="530.17" cy="227.72" r="2"/><circle cx="531.38" cy="231.8" r="2"/><circle cx="532.6" cy="236.84" r="2"/><circle cx="533.81" cy="242.63" r="2"/><circle cx="535.02" cy="247.05" r="2"/><circle cx="536.23" cy="251.05" r="2"/><circle cx="537.44" cy="255.11" r="2"/><circle cx="538.66" cy="259.16" r="2"/><circle cx="539.87" cy="262.9" r="2"/><circle cx="541.08" cy="266.34" r="2"/><circle cx="542.29" cy="269.38" r="2"/><circle cx="543.5" cy="272.03" r="2"/><circle cx="544.72" cy="274.42" r="2"/><circle cx="545.93" cy="276.49" r="2"/><circle cx="547.14" cy="278.21" r="2"/><circle cx="548.35" cy="279.67" r="2"/><circle cx="549.56" cy="280.96" r="2"/><circle cx="550.78" cy="282.15" r="2"/><circle cx="551.99" cy="283.15" r="2"/><circle cx="553.2" cy="284.07" r="2"/><circle cx="554.41" cy="285.01" r="2"/><circle cx="555.62" cy="286.02" r="2"/><circle cx="556.84" cy="287.04" r="2"/><circle cx="558.05" cy="288.06" r="2"/><circle cx="559.26" cy="289.05" r="2"/><circle cx="560.47" cy="290.1" r="2"/><circle cx="561.68" cy="291.34" r="2"/><circle cx="562.9" cy="292.81" r="2"/><circle cx="564.11" cy="294.21" r="2"/><circle cx="565.32" cy="295.22" r="2"/><circle cx="566.53" cy="295.92" r="2"/><circle cx="567.74" cy="296.43" r="2"/><circle cx="568.96" cy="296.79" r="2"/><circle cx="570.17" cy="297.02" r="2"/><circle cx="571.38" cy="297.05" r="2"/><circle cx="572.59" cy="296.9" r="2"/><circle cx="573.8" cy="296.71" r="2"/><circle cx="575.02" cy="296.6" r="2"/><circle cx="576.23" cy="296.55" r="2"/><circle cx="577.44" cy="296.51" r="2"/><circle cx="578.65" cy="296.54" r="2"/><circle cx="579.86" cy="296.68" r="2"/><circle cx="581.08" cy="296.97" r="2"/><circle cx="582.29" cy="297.39" r="2"/><circle cx="583.5" cy="297.88" r="2"/><circle cx="584.71" cy="298.39" r="2"/><circle cx="585.92" cy="298.86" r="2"/><circle cx="587.14" cy="299.35" r="2"/><circle cx="588.35" cy="299.86" r="2"/><circle cx="589.56" cy="300.4" r="2"/><circle cx="590.77" cy="300.98" r="2"/><circle cx="591.98" cy="301.64" r="2"/><circle cx="593.2" cy="302.31" r="2"/><circle cx="594.41" cy="302.94" r="2"/><circle cx="595.62" cy="303.46" r="2"/><circle cx="596.83" cy="303.94" r="2"/><circle cx="598.04" cy="304.37" r="2"/><circle cx="599.26" cy="304.68" r="2"/><circle cx="600.47" cy="304.84" r="2"/><circle cx="601.68" cy="304.83" r="2"/><circle cx="602.89" cy="304.7" r="2"/><circle cx="604.1" cy="304.52" r="2"/><circle cx="605.32" cy="304.36" r="2"/><circle cx="606.53" cy="304.19" r="2"/><circle cx="607.74" cy="304" r="2"/><circle cx="608.95" cy="303.79" r="2"/><circle cx="610.16" cy="303.57" r="2"/><circle cx="611.38" cy="303.32" r="2"/><circle cx="612.59" cy="303.06" r="2"/><circle cx="613.8" cy="302.8" r="2"/><circle cx="615.01" cy="302.6" r="2"/><circle cx="616.22" cy="302.53" r="2"/><circle cx="617.44" cy="302.67" r="2"/><circle cx="618.65" cy="302.87" r="2"/><circle cx="619.86" cy="303.12" r="2"/><circle cx="621.07" cy="303.38" r="2"/><circle cx="622.28" cy="303.67" r="2"/><circle cx="623.5" cy="303.98" r="2"/><circle cx="624.71" cy="304.32" r="2"/><circle cx="625.92" cy="304.66" r="2"/><circle cx="627.13" cy="304.99" r="2"/><circle cx="628.34" cy="305.28" r="2"/><circle cx="629.56" cy="305.55" r="2"/><circle cx="630.77" cy="305.8" r="2"/><circle cx="631.98" cy="306.05" r="2"/><circle cx="633.19" cy="306.28" r="2"/><circle cx="634.4" cy="306.5" r="2"/><circle cx="635.62" cy="306.7" r="2"/><circle cx="636.83" cy="306.88" r="2"/><circle cx="638.04" cy="307.04" r="2"/><circle cx="639.25" cy="307.2" r="2"/><circle cx="640.46" cy="307.37" r="2"/><circle cx="641.68" cy="307.55" r="2"/><circle cx="642.89" cy="307.75" r="2"/><circle cx="644.1" cy="307.95" r="2"/><circle cx="645.31" cy="308.18" r="2"/><circle cx="646.52" cy="308.47" r="2"/><circle cx="647.74" cy="308.85" r="2"/><circle cx="648.95" cy="309.38" r="2"/><circle cx="650.16" cy="309.91" r="2"/><circle cx="651.37" cy="310.3" r="2"/><circle cx="652.58" cy="310.59" r="2"/><circle cx="653.8" cy="310.77" r="2"/><circle cx="655.01" cy="310.8" r="2"/><circle cx="656.22" cy="310.53" r="2"/><circle cx="657.43" cy="310.08" r="2"/><circle cx="658.64" cy="309.78" r="2"/><circle cx="659.86" cy="309.76" r="2"/><circle cx="661.07" cy="310.02" r="2"/><circle cx="662.28" cy="310.8" r="2"/><circle cx="663.49" cy="311.59" r="2"/><circle cx="664.7" cy="312.28" r="2"/><circle cx="665.92" cy="312.94" r="2"/><circle cx="667.13" cy="313.56" r="2"/><circle cx="668.34" cy="314.12" r="2"/><circle cx="669.55" cy="314.65" r="2"/><circle cx="670.76" cy="315.19" r="2"/><circle cx="671.98" cy="315.79" r="2"/><circle cx="673.19" cy="316.42" r="2"/><circle cx="674.4" cy="317" r="2"/></g>
<rect x="492.2" y="194.5" width="182.6" height="127.95" fill="none" stroke="#6a6a6a" stroke-width="1.2" />
<line x1="492.2" y1="322.1" x2="495" y2="322.1" stroke="#3a3a3a" stroke-width="1" />
<line x1="492.2" y1="307.18" x2="493.9" y2="307.18" stroke="#3a3a3a" stroke-width="1" />
<line x1="492.2" y1="292.26" x2="495" y2="292.26" stroke="#3a3a3a" stroke-width="1" />
<line x1="492.2" y1="277.34" x2="493.9" y2="277.34" stroke="#3a3a3a" stroke-width="1" />
<line x1="492.2" y1="262.42" x2="495" y2="262.42" stroke="#3a3a3a" stroke-width="1" />
<line x1="492.2" y1="247.5" x2="493.9" y2="247.5" stroke="#3a3a3a" stroke-width="1" />
<line x1="492.2" y1="232.58" x2="495" y2="232.58" stroke="#3a3a3a" stroke-width="1" />
<line x1="492.2" y1="217.66" x2="493.9" y2="217.66" stroke="#3a3a3a" stroke-width="1" />
<line x1="492.2" y1="202.74" x2="495" y2="202.74" stroke="#3a3a3a" stroke-width="1" />
<text x="488.9" y="325.7" font-size="10.2" fill="#1a1a1a" text-anchor="end" >0</text>
<text x="488.9" y="295.86" font-size="10.2" fill="#1a1a1a" text-anchor="end" >4</text>
<text x="488.9" y="266.02" font-size="10.2" fill="#1a1a1a" text-anchor="end" >8</text>
<text x="488.9" y="236.18" font-size="10.2" fill="#1a1a1a" text-anchor="end" >12</text>
<text x="488.9" y="206.34" font-size="10.2" fill="#1a1a1a" text-anchor="end" >16</text>
<line x1="492.3" y1="322.45" x2="492.3" y2="320.05" stroke="#3a3a3a" stroke-width="1" />
<line x1="507.45" y1="322.45" x2="507.45" y2="321.15" stroke="#3a3a3a" stroke-width="1" />
<line x1="522.6" y1="322.45" x2="522.6" y2="320.05" stroke="#3a3a3a" stroke-width="1" />
<line x1="537.75" y1="322.45" x2="537.75" y2="321.15" stroke="#3a3a3a" stroke-width="1" />
<line x1="552.9" y1="322.45" x2="552.9" y2="320.05" stroke="#3a3a3a" stroke-width="1" />
<line x1="568.05" y1="322.45" x2="568.05" y2="321.15" stroke="#3a3a3a" stroke-width="1" />
<line x1="583.2" y1="322.45" x2="583.2" y2="320.05" stroke="#3a3a3a" stroke-width="1" />
<line x1="598.35" y1="322.45" x2="598.35" y2="321.15" stroke="#3a3a3a" stroke-width="1" />
<line x1="613.5" y1="322.45" x2="613.5" y2="320.05" stroke="#3a3a3a" stroke-width="1" />
<line x1="628.65" y1="322.45" x2="628.65" y2="321.15" stroke="#3a3a3a" stroke-width="1" />
<line x1="643.8" y1="322.45" x2="643.8" y2="320.05" stroke="#3a3a3a" stroke-width="1" />
<line x1="658.95" y1="322.45" x2="658.95" y2="321.15" stroke="#3a3a3a" stroke-width="1" />
<line x1="674.1" y1="322.45" x2="674.1" y2="320.05" stroke="#3a3a3a" stroke-width="1" />
<text x="492.3" y="333.7" font-size="10.4" fill="#1a1a1a" text-anchor="middle" >300</text>
<text x="522.6" y="333.7" font-size="10.4" fill="#1a1a1a" text-anchor="middle" >325</text>
<text x="552.9" y="333.7" font-size="10.4" fill="#1a1a1a" text-anchor="middle" >350</text>
<text x="583.2" y="333.7" font-size="10.4" fill="#1a1a1a" text-anchor="middle" >375</text>
<text x="613.5" y="333.7" font-size="10.4" fill="#1a1a1a" text-anchor="middle" >400</text>
<text x="643.8" y="333.7" font-size="10.4" fill="#1a1a1a" text-anchor="middle" >425</text>
<text x="674.1" y="333.7" font-size="10.4" fill="#1a1a1a" text-anchor="middle" >450</text>
<text x="583.5" y="347" font-size="11" fill="#1a1a1a" text-anchor="middle" >Wavelength (nm)</text>
<text x="470" y="257.5" font-size="10.6" fill="#1a1a1a" text-anchor="middle" transform="rotate(-90 470 257.5)">Photovoltage (mV)</text>
<line x1="579" y1="209.6" x2="597.7" y2="209.6" stroke="#5f9994" stroke-width="1.5" />
<circle cx="588.5" cy="209.6" r="1.8" fill="#fff" stroke="#5f9994" stroke-width="0.7"/>
<line x1="579" y1="224.9" x2="597.7" y2="224.9" stroke="#f98a8e" stroke-width="1.5" />
<circle cx="588.5" cy="224.9" r="1.8" fill="#fff" stroke="#f98a8e" stroke-width="0.7"/>
<text x="601.2" y="212.8" font-size="9.2" fill="#5b9590" text-anchor="start" >Sr<tspan font-size="6.4" dy="2">2</tspan><tspan dy="-2">TiO</tspan><tspan font-size="6.4" dy="2">4</tspan><tspan dy="-2">-N</tspan></text>
<text x="601.2" y="228.1" font-size="9.2" fill="#f8767b" text-anchor="start" >Sr<tspan font-size="6.4" dy="2">2</tspan><tspan dy="-2">TiO</tspan><tspan font-size="6.4" dy="2">4</tspan><tspan dy="-2">-NF</tspan></text>
</svg></body></html>
